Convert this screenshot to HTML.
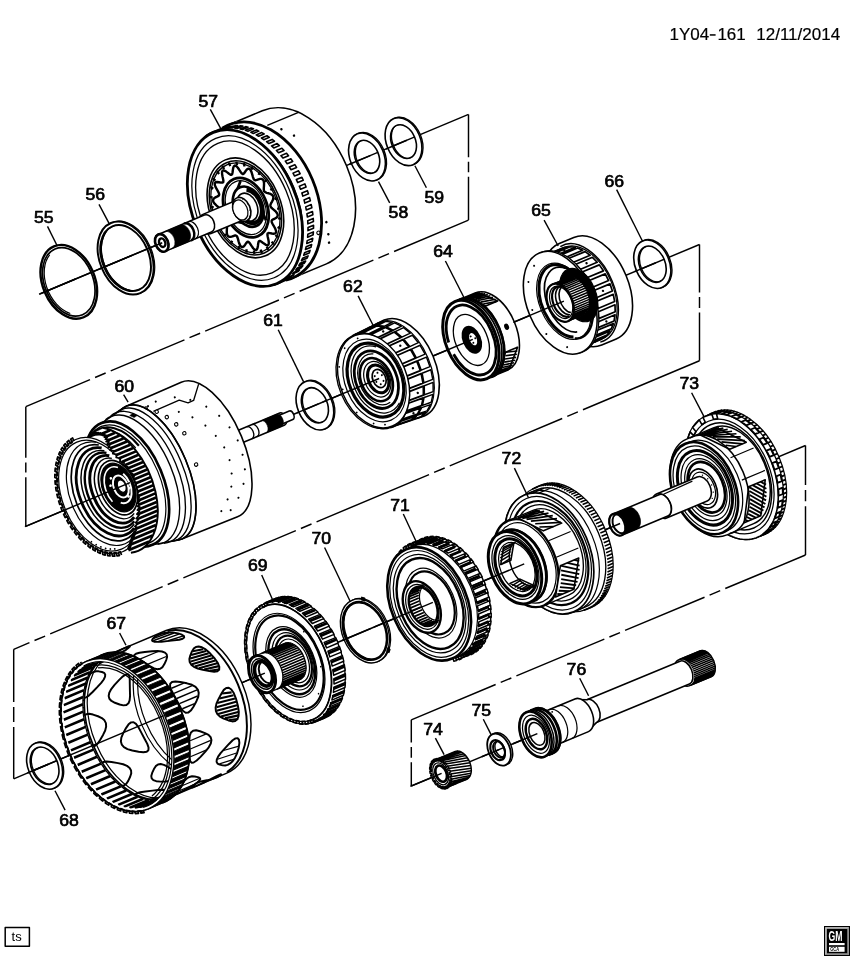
<!DOCTYPE html>
<html><head><meta charset="utf-8"><title>1Y04-161</title>
<style>
html,body{margin:0;padding:0;background:#fff;}
body{width:851px;height:960px;overflow:hidden;font-family:"Liberation Sans",sans-serif;}
svg{display:block;will-change:transform;}
text{font-family:"Liberation Sans",sans-serif;fill:#000;}
.tx{opacity:0.995;}
.lb{font-size:15.6px;stroke:#000;stroke-width:0.65px;}
.dt{font-size:17px;stroke:#000;stroke-width:0.2px;}
.ts{font-size:13px;}
.gm{font-size:14px;font-weight:bold;fill:#fff;}
.gc{font-size:5px;font-weight:bold;fill:#000;}
</style></head><body>
<svg width="851" height="960" viewBox="0 0 851 960" stroke-linecap="butt" stroke-linejoin="round">
<rect width="851" height="960" fill="#fff"/>
<path d="M468.5 114.4L468.5 157.3M468.5 161.7L468.5 172.3M468.5 176.7L468.5 220.1" fill="none" stroke="#000" stroke-width="1.46"/>
<path d="M468.5 220.1L394.09 251.46M389.02 253.6L378.42 258.07M373.36 260.2L299.64 291.28M294.57 293.41L283.97 297.88M278.9 300.02L205.19 331.09M200.12 333.22L189.52 337.69M184.45 339.83L110.73 370.9M105.66 373.04L95.07 377.5M90 379.64L25.8 406.7" fill="none" stroke="#000" stroke-width="1.46"/>
<path d="M25.8 406.7L25.8 457.7M25.8 462.5L25.8 472.5M25.8 477.3L25.8 526.3" fill="none" stroke="#000" stroke-width="1.46"/>
<path d="M699.5 244.5L699.5 292.5M699.5 297L699.5 308M699.5 312.5L699.5 360.75" fill="none" stroke="#000" stroke-width="1.46"/>
<path d="M699.5 360.75L582.95 409.79M577.88 411.92L567.28 416.38M562.21 418.52L449.76 465.83M444.69 467.96L434.09 472.42M429.02 474.56L316.57 521.87M311.5 524L300.9 528.46M295.83 530.6L183.37 577.91M178.3 580.04L167.7 584.5M162.64 586.64L50.18 633.95M45.11 636.08L34.51 640.54M29.44 642.68L13.7 649.3" fill="none" stroke="#000" stroke-width="1.46"/>
<path d="M13.7 649.3L13.7 702M13.7 707L13.7 722M13.7 727L13.7 778.8" fill="none" stroke="#000" stroke-width="1.46"/>
<path d="M805.5 445.5L805.5 485M805.5 490L805.5 501.2M805.5 506.2L805.5 555" fill="none" stroke="#000" stroke-width="1.46"/>
<path d="M805.5 555L725.28 588.54M720.2 590.66L709.59 595.09M704.52 597.22L625.08 630.43M620.01 632.55L609.4 636.98M604.32 639.1L516.4 675.86M511.32 677.98L500.71 682.42M495.64 684.54L411.3 719.8" fill="none" stroke="#000" stroke-width="1.46"/>
<path d="M411.3 719.8L411.3 742.5M411.3 747L411.3 757.8M411.3 762.3L411.3 786" fill="none" stroke="#000" stroke-width="1.46"/>
<g transform="translate(40 293.9) rotate(-22.73)">
<path d="M0 0L464.58 0" fill="none" stroke="#000" stroke-width="1.46"/>
<path d="M4.7 0A26.52 39 0 1 0 57.74 0A26.52 39 0 1 0 4.7 0ZM7.02 0A24.21 35.6 0 1 1 55.43 0A24.21 35.6 0 1 1 7.02 0Z" fill="#fff" stroke="#000" stroke-width="0.1" fill-rule="evenodd"/>
<ellipse cx="31.22" cy="0" rx="26.11" ry="38.4" fill="none" stroke="#000" stroke-width="2.4"/>
<ellipse cx="31.22" cy="0" rx="24.21" ry="35.6" fill="none" stroke="#000" stroke-width="1.71"/>
<path d="M20.33 29.79A23.39 34.4 0 0 1 24.02 -32.33" fill="none" stroke="#000" stroke-width="1.22"/>
<path d="M2.7 0L38.49 0" fill="none" stroke="#000" stroke-width="1.46"/>
<path d="M68.17 0A25.84 38 0 1 0 119.85 0A25.84 38 0 1 0 68.17 0ZM70.62 0A23.39 34.4 0 1 1 117.4 0A23.39 34.4 0 1 1 70.62 0Z" fill="#fff" stroke="#000" stroke-width="1.22" fill-rule="evenodd"/>
<path d="M66.97 0A25.84 38 0 1 0 118.65 0A25.84 38 0 1 0 66.97 0ZM69.42 0A23.39 34.4 0 1 1 116.2 0A23.39 34.4 0 1 1 69.42 0Z" fill="#fff" stroke="#000" stroke-width="0.1" fill-rule="evenodd"/>
<ellipse cx="92.81" cy="0" rx="25.84" ry="38" fill="none" stroke="#000" stroke-width="1.95"/>
<ellipse cx="92.81" cy="0" rx="23.39" ry="34.4" fill="none" stroke="#000" stroke-width="1.95"/>
<path d="M86.01 32.33A23.39 34.4 0 0 1 86.01 -32.33" fill="none" stroke="#000" stroke-width="1.22"/>
<path d="M64.97 0L99.82 0" fill="none" stroke="#000" stroke-width="1.46"/>
<path d="M239 -83L275.8 -83A56.44 83 0 0 1 275.8 83L239 83A56.44 83 0 0 1 239 -83Z" fill="#fff" stroke="#000" stroke-width="1.59"/>
<ellipse cx="239" cy="0" rx="56.44" ry="83" fill="#fff" stroke="#fff" stroke-width="2.5"/>
<path d="M239 -83L247 -83" fill="none" stroke="#000" stroke-width="1.59"/>
<path d="M239 83L247 83" fill="none" stroke="#000" stroke-width="1.59"/>
<path d="M274.77 -67.57L308.57 -67.57" fill="none" stroke="#000" stroke-width="1.46"/>
<circle cx="286.28" cy="-58.59" r="1.25" fill="#000"/><circle cx="295.42" cy="-47.84" r="1.25" fill="#000"/><circle cx="291.85" cy="44.47" r="1.25" fill="#000"/><circle cx="289.01" cy="56.39" r="1.25" fill="#000"/><circle cx="286.4" cy="64.41" r="1.25" fill="#000"/>
<circle cx="280.46" cy="51.25" r="1.7" fill="#fff" stroke="#000" stroke-width="1.1"/>
<path d="M232.12 -82.38A56.44 83 0 1 1 232.12 82.38" fill="none" stroke="#000" stroke-width="2.8"/>
<path d="M239.08 -79.74L245.08 -79.74L247.24 -78.83L241.24 -78.83ZM243.8 -77.57L249.8 -77.57L251.9 -76.38L245.9 -76.38ZM248.36 -74.8L254.36 -74.8L256.39 -73.34L250.39 -73.34ZM252.75 -71.45L258.75 -71.45L260.68 -69.73L254.68 -69.73ZM256.92 -67.54L262.92 -67.54L264.73 -65.58L258.73 -65.58ZM260.84 -63.11L266.84 -63.11L268.53 -60.92L262.53 -60.92ZM264.47 -58.18L270.47 -58.18L272.03 -55.79L266.03 -55.79ZM267.8 -52.81L273.8 -52.81L275.21 -50.22L269.21 -50.22ZM270.79 -47.02L276.79 -47.02L278.04 -44.27L272.04 -44.27ZM273.43 -40.88L279.43 -40.88L280.51 -37.97L274.51 -37.97ZM275.69 -34.41L281.69 -34.41L282.59 -31.37L276.59 -31.37ZM277.55 -27.67L283.55 -27.67L284.26 -24.53L278.26 -24.53ZM279 -20.73L285 -20.73L285.52 -17.5L279.52 -17.5ZM280.03 -13.62L286.03 -13.62L286.36 -10.34L280.36 -10.34ZM280.63 -6.4L286.63 -6.4L286.76 -3.1L280.76 -3.1ZM280.8 0.86L286.8 0.86L286.73 4.17L280.73 4.17ZM280.53 8.12L286.53 8.12L286.26 11.41L280.26 11.41ZM279.82 15.32L285.82 15.32L285.36 18.56L279.36 18.56ZM278.69 22.39L284.69 22.39L284.04 25.56L278.04 25.56ZM277.14 29.3L283.14 29.3L282.3 32.37L276.3 32.37ZM275.19 35.97L281.19 35.97L280.16 38.92L274.16 38.92ZM272.84 42.37L278.84 42.37L277.64 45.17L271.64 45.17ZM270.11 48.43L276.11 48.43L274.76 51.08L268.76 51.08ZM267.04 54.12L273.04 54.12L271.53 56.58L265.53 56.58ZM263.64 59.4L269.64 59.4L267.98 61.65L261.98 61.65ZM259.93 64.21L265.93 64.21L264.15 66.23L258.15 66.23ZM255.95 68.52L261.95 68.52L260.05 70.31L254.05 70.31ZM251.73 72.3L257.73 72.3L255.73 73.83L249.73 73.83ZM247.29 75.51L253.29 75.51L251.22 76.79L245.22 76.79ZM242.69 78.14L248.69 78.14L246.54 79.14L240.54 79.14Z" fill="none" stroke="#000" stroke-width="1.59"/>
<path d="M214.27 -81.87L222.27 -81.87L224.41 -82.2L216.41 -82.2ZM217.38 -82.31L225.38 -82.31L227.54 -82.46L219.54 -82.46ZM220.51 -82.49L228.51 -82.49L230.67 -82.47L222.67 -82.47ZM223.65 -82.42L231.65 -82.42L233.8 -82.22L225.8 -82.22ZM226.77 -82.09L234.77 -82.09L236.91 -81.72L228.91 -81.72ZM229.88 -81.51L237.88 -81.51L240 -80.96L232 -80.96ZM232.96 -80.67L240.96 -80.67L243.06 -79.94L235.06 -79.94Z" fill="#000" stroke="#000" stroke-width="1.46"/>
<path d="M233.82 80.39L241.82 80.39L239.9 80.98L231.9 80.98ZM230.75 81.3L238.75 81.3L236.81 81.74L228.81 81.74ZM227.65 81.95L235.65 81.95L233.7 82.23L225.7 82.23ZM224.53 82.35L232.53 82.35L230.57 82.48L222.57 82.48ZM221.4 82.5L229.4 82.5L227.44 82.46L219.44 82.46Z" fill="#000" stroke="#000" stroke-width="1.46"/>
<path d="M228.94 -81.25A56.1 82.5 0 0 1 228.94 81.25" fill="none" stroke="#000" stroke-width="1.1"/>
<ellipse cx="222.2" cy="0" rx="52.07" ry="82" fill="#fff" stroke="#000" stroke-width="2.8"/>
<ellipse cx="222.2" cy="0" rx="48.01" ry="75.6" fill="none" stroke="#000" stroke-width="1.22"/>
<ellipse cx="222.2" cy="0" rx="44.58" ry="70.2" fill="none" stroke="#000" stroke-width="1.34"/>
<ellipse cx="222.7" cy="0" rx="35.36" ry="52" fill="#fff" stroke="#000" stroke-width="1.59"/>
<ellipse cx="222.7" cy="0" rx="33.32" ry="49" fill="none" stroke="#000" stroke-width="1.59"/>
<path d="M252.76 0L252.35 1.63L251.25 3.15L249.73 4.48L248.18 5.65L247 6.76L246.43 7.97L246.58 9.41L247.33 11.17L248.37 13.21L249.35 15.38L249.9 17.45L249.78 19.18L248.93 20.39L247.49 21.05L245.73 21.28L243.99 21.35L242.59 21.59L241.73 22.32L241.44 23.72L241.59 25.78L241.93 28.28L242.17 30.86L242.06 33.08L241.44 34.56L240.32 35.11L238.83 34.78L237.17 33.87L235.59 32.82L234.25 32.15L233.26 32.25L232.59 33.33L232.12 35.28L231.68 37.76L231.14 40.23L230.38 42.15L229.39 43.09L228.22 42.88L226.97 41.63L225.75 39.75L224.63 37.79L223.62 36.34L222.7 35.8L221.78 36.34L220.77 37.79L219.65 39.75L218.43 41.63L217.18 42.88L216.01 43.09L215.02 42.15L214.26 40.23L213.72 37.76L213.28 35.28L212.81 33.33L212.14 32.25L211.15 32.15L209.81 32.82L208.23 33.87L206.57 34.78L205.08 35.11L203.96 34.56L203.34 33.08L203.23 30.86L203.47 28.28L203.81 25.78L203.96 23.72L203.67 22.32L202.81 21.59L201.41 21.35L199.67 21.28L197.91 21.05L196.47 20.39L195.62 19.18L195.5 17.45L196.05 15.38L197.03 13.21L198.07 11.17L198.82 9.41L198.97 7.97L198.4 6.76L197.22 5.65L195.67 4.48L194.15 3.15L193.05 1.63L192.64 0L193.05 -1.63L194.15 -3.15L195.67 -4.48L197.22 -5.65L198.4 -6.76L198.97 -7.97L198.82 -9.41L198.07 -11.17L197.03 -13.21L196.05 -15.38L195.5 -17.45L195.62 -19.18L196.47 -20.39L197.91 -21.05L199.67 -21.28L201.41 -21.35L202.81 -21.59L203.67 -22.32L203.96 -23.72L203.81 -25.78L203.47 -28.28L203.23 -30.86L203.34 -33.08L203.96 -34.56L205.08 -35.11L206.57 -34.78L208.23 -33.87L209.81 -32.82L211.15 -32.15L212.14 -32.25L212.81 -33.33L213.28 -35.28L213.72 -37.76L214.26 -40.23L215.02 -42.15L216.01 -43.09L217.18 -42.88L218.43 -41.63L219.65 -39.75L220.77 -37.79L221.78 -36.34L222.7 -35.8L223.62 -36.34L224.63 -37.79L225.75 -39.75L226.97 -41.63L228.22 -42.88L229.39 -43.09L230.38 -42.15L231.14 -40.23L231.68 -37.76L232.12 -35.28L232.59 -33.33L233.26 -32.25L234.25 -32.15L235.59 -32.82L237.17 -33.87L238.83 -34.78L240.32 -35.11L241.44 -34.56L242.06 -33.08L242.17 -30.86L241.93 -28.28L241.59 -25.78L241.44 -23.72L241.73 -22.32L242.59 -21.59L243.99 -21.35L245.73 -21.28L247.49 -21.05L248.93 -20.39L249.78 -19.18L249.9 -17.45L249.35 -15.38L248.37 -13.21L247.33 -11.17L246.58 -9.41L246.43 -7.97L247 -6.76L248.18 -5.65L249.73 -4.48L251.25 -3.15L252.35 -1.63L252.76 0Z" fill="none" stroke="#000" stroke-width="2.4"/>
<path d="M252.89 3.1L255.4 3.36M251.66 12.9L254.07 13.98M248.98 22.06L251.17 23.89M244.98 30.1L246.84 32.61M239.87 36.64L241.3 39.69M233.9 41.34L234.83 44.78M227.36 43.97L227.75 47.63M220.59 44.39L220.41 48.08M213.93 42.59L213.2 46.13M207.7 38.65L206.45 41.86M202.23 32.77L200.53 35.5M197.78 25.25L195.71 27.35M194.59 16.46L192.25 17.83M192.8 6.85L190.31 7.42M192.51 -3.1L190 -3.36M193.74 -12.9L191.33 -13.98M196.42 -22.06L194.23 -23.89M200.42 -30.1L198.56 -32.61M205.53 -36.64L204.1 -39.69M211.5 -41.34L210.57 -44.78M218.04 -43.97L217.65 -47.63M224.81 -44.39L224.99 -48.08M231.47 -42.59L232.2 -46.13M237.7 -38.65L238.95 -41.86M243.17 -32.77L244.87 -35.5M247.62 -25.25L249.69 -27.35M250.81 -16.46L253.15 -17.83M252.6 -6.85L255.09 -7.42" fill="none" stroke="#000" stroke-width="2.32"/>
<ellipse cx="222.7" cy="0" rx="31.82" ry="46.8" fill="none" stroke="#000" stroke-width="1.22"/>
<ellipse cx="223.2" cy="0" rx="21.08" ry="31" fill="none" stroke="#000" stroke-width="2.8"/>
<ellipse cx="223.2" cy="0" rx="19.04" ry="28" fill="none" stroke="#000" stroke-width="1.22"/>
<path d="M237.42 3.3Q236.51 13.19 236.92 19.45M216.4 14.55Q209.53 9.72 205.64 7.12M220.28 -17.85Q225.06 -22.91 228.54 -26.56" fill="none" stroke="#000" stroke-width="2.68"/>
<ellipse cx="225.7" cy="0" rx="14.28" ry="21" fill="#fff" stroke="#000" stroke-width="2.6"/>
<path d="M230.77 -16.44A11.9 17.5 0 1 1 214.98 3.04" fill="none" stroke="#000" stroke-width="4.2"/>
<ellipse cx="224.7" cy="0" rx="9.86" ry="14.5" fill="#fff" stroke="#000" stroke-width="1.59"/>
<path d="M181 -10.4L218.7 -10.4A7.07 10.4 0 0 1 218.7 10.4L181 10.4A7.07 10.4 0 0 1 181 -10.4Z" fill="#fff" stroke="#000" stroke-width="1.59"/>
<ellipse cx="218.7" cy="0" rx="8.5" ry="12.5" fill="#fff" stroke="#000" stroke-width="1.59"/>
<ellipse cx="217.2" cy="0" rx="7.07" ry="10.4" fill="#fff" stroke="#000" stroke-width="1.22"/>
<circle cx="223.64" cy="-8.66" r="0.6" fill="#000"/><circle cx="226.12" cy="-2.92" r="0.6" fill="#000"/><circle cx="225.92" cy="3.86" r="0.6" fill="#000"/><circle cx="223.11" cy="9.26" r="0.6" fill="#000"/>
<path d="M132 -9.2L182 -9.2A6.26 9.2 0 0 1 182 9.2L132 9.2A6.26 9.2 0 0 1 132 -9.2Z" fill="#fff" stroke="#000" stroke-width="1.59"/><ellipse cx="132" cy="0" rx="6.26" ry="9.2" fill="none" stroke="#000" stroke-width="1.59"/>
<path d="M139 -9.2L156 -9.2A6.26 9.2 0 0 1 156 9.2L139 9.2A6.26 9.2 0 0 0 139 -9.2Z" fill="#000" stroke="#000" stroke-width="0.5"/>
<path d="M160 -9.2A6.26 9.2 0 0 1 160 9.2" fill="none" stroke="#000" stroke-width="2.44"/>
<path d="M164.5 -9.2A6.26 9.2 0 0 1 164.5 9.2" fill="none" stroke="#000" stroke-width="1.22"/>
<ellipse cx="132" cy="0" rx="6.26" ry="9.2" fill="#fff" stroke="#000" stroke-width="2.68"/>
<ellipse cx="132.5" cy="0" rx="2.99" ry="4.4" fill="#fff" stroke="#000" stroke-width="2.4"/>
<path d="M-1 0L132.5 0" fill="none" stroke="#000" stroke-width="1.46"/>
<path d="M338.73 0A17 25 0 1 0 372.73 0A17 25 0 1 0 338.73 0ZM343.97 0A11.76 17.3 0 1 1 367.5 0A11.76 17.3 0 1 1 343.97 0Z" fill="#fff" stroke="#000" stroke-width="1.34" fill-rule="evenodd"/>
<path d="M337.53 0A17 25 0 1 0 371.53 0A17 25 0 1 0 337.53 0ZM342.77 0A11.76 17.3 0 1 1 366.3 0A11.76 17.3 0 1 1 342.77 0Z" fill="#fff" stroke="#000" stroke-width="0.1" fill-rule="evenodd"/>
<ellipse cx="354.53" cy="0" rx="17" ry="25" fill="none" stroke="#000" stroke-width="1.59"/>
<ellipse cx="354.53" cy="0" rx="11.76" ry="17.3" fill="none" stroke="#000" stroke-width="1.59"/>
<path d="M335.53 0L358.06 0" fill="none" stroke="#000" stroke-width="1.46"/>
<path d="M378.31 0A17 25 0 1 0 412.31 0A17 25 0 1 0 378.31 0ZM383.34 0A11.97 17.6 0 1 1 407.27 0A11.97 17.6 0 1 1 383.34 0Z" fill="#fff" stroke="#000" stroke-width="1.34" fill-rule="evenodd"/>
<path d="M377.11 0A17 25 0 1 0 411.11 0A17 25 0 1 0 377.11 0ZM382.14 0A11.97 17.6 0 1 1 406.07 0A11.97 17.6 0 1 1 382.14 0Z" fill="#fff" stroke="#000" stroke-width="0.1" fill-rule="evenodd"/>
<ellipse cx="394.11" cy="0" rx="17" ry="25" fill="none" stroke="#000" stroke-width="1.59"/>
<ellipse cx="394.11" cy="0" rx="11.97" ry="17.6" fill="none" stroke="#000" stroke-width="1.59"/>
<path d="M375.11 0L397.7 0" fill="none" stroke="#000" stroke-width="1.46"/>
</g>
<g transform="translate(25.8 526.3) rotate(-22.7)">
<path d="M0 0L730.26 0" fill="none" stroke="#000" stroke-width="1.46"/>
<path d="M226 -6.5L278 -6.5A3.9 6.5 0 0 1 278 6.5L226 6.5A3.9 6.5 0 0 1 226 -6.5Z" fill="#fff" stroke="#000" stroke-width="1.59"/>
<path d="M276 -4.6L287.5 -4.6A2.76 4.6 0 0 1 287.5 4.6L276 4.6A2.76 4.6 0 0 1 276 -4.6Z" fill="#fff" stroke="#000" stroke-width="1.59"/>
<path d="M257.8 -6.5L274.6 -6.5A3.9 6.5 0 0 1 274.6 6.5L257.8 6.5A3.9 6.5 0 0 0 257.8 -6.5Z" fill="#000" stroke="#000" stroke-width="0.5"/>
<path d="M242.4 -6.5A3.9 6.5 0 0 1 242.4 6.5" fill="none" stroke="#000" stroke-width="1.34"/>
<path d="M248 -6.5A3.9 6.5 0 0 1 248 6.5" fill="none" stroke="#000" stroke-width="1.34"/>
<path d="M139 -72L199 -73A34.67 73 0 0 1 199 73L139 72A34.2 72 0 0 1 139 -72Z" fill="#fff" stroke="#000" stroke-width="1.59"/>
<path d="M162.06 -56.74L190.2 -57.13L197.35 -51.27L203.38 -51.34L214.28 -64.46" fill="none" stroke="#000" stroke-width="1.34"/>
<circle cx="185.32" cy="-46.5" r="1.05" fill="#000"/><circle cx="195.81" cy="-36.23" r="1.05" fill="#000"/><circle cx="204.59" cy="-23.62" r="1.05" fill="#000"/><circle cx="210.16" cy="-10.11" r="1.05" fill="#000"/><circle cx="213.48" cy="3.8" r="1.05" fill="#000"/><circle cx="213.51" cy="17.59" r="1.05" fill="#000"/><circle cx="210.29" cy="30.72" r="1.05" fill="#000"/><circle cx="204.92" cy="42.7" r="1.05" fill="#000"/><circle cx="196.51" cy="53.08" r="1.05" fill="#000"/><circle cx="186.25" cy="61.48" r="1.05" fill="#000"/><circle cx="159.07" cy="-63.63" r="1.05" fill="#000"/><circle cx="168.04" cy="-64.93" r="1.05" fill="#000"/><circle cx="187.25" cy="-61.49" r="1.05" fill="#000"/><circle cx="200.53" cy="-53.13" r="1.05" fill="#000"/><circle cx="212.65" cy="-40.69" r="1.05" fill="#000"/><circle cx="221.08" cy="-27.29" r="1.05" fill="#000"/><circle cx="226.1" cy="-12.66" r="1.05" fill="#000"/><circle cx="228.62" cy="2.55" r="1.05" fill="#000"/><circle cx="227.62" cy="17.64" r="1.05" fill="#000"/><circle cx="224.13" cy="31.97" r="1.05" fill="#000"/><circle cx="217.27" cy="44.86" r="1.05" fill="#000"/><circle cx="207.22" cy="55.75" r="1.05" fill="#000"/><circle cx="195.21" cy="64.17" r="1.05" fill="#000"/>
<circle cx="156.1" cy="-62.35" r="1.7" fill="#fff" stroke="#000" stroke-width="1.1"/>
<circle cx="164.98" cy="-55.16" r="1.7" fill="#fff" stroke="#000" stroke-width="1.1"/>
<circle cx="172.2" cy="-46.28" r="1.7" fill="#fff" stroke="#000" stroke-width="1.1"/>
<circle cx="178.12" cy="-36" r="1.7" fill="#fff" stroke="#000" stroke-width="1.1"/>
<circle cx="182.14" cy="-24.63" r="1.7" fill="#fff" stroke="#000" stroke-width="1.1"/>
<circle cx="180.95" cy="8.77" r="1.7" fill="#fff" stroke="#000" stroke-width="1.1"/>
<path d="M109.7 -66L138.9 -72A34.24 72 0 0 1 138.9 72L109.7 66A36.4 66 0 0 1 109.7 -66Z" fill="#fff" stroke="#000" stroke-width="1.46"/>
<path d="M114.58 -67.46A35.8 68.5 0 1 1 114.58 67.46" fill="none" stroke="#000" stroke-width="1.34"/>
<path d="M120.84 -68.94A35.45 70 0 1 1 120.84 68.94" fill="none" stroke="#000" stroke-width="1.34"/>
<path d="M127.36 -69.92A34.78 71 0 1 1 127.36 69.92" fill="none" stroke="#000" stroke-width="1.34"/>
<path d="M132.95 -70.91A34.24 72 0 1 1 132.95 70.91" fill="none" stroke="#000" stroke-width="1.59"/>
<path d="M138.63 -62.02L142.08 -62.74L145.33 -59.19L141.9 -58.52Z" fill="#000" stroke="#000" stroke-width="0.5"/>
<ellipse cx="109.7" cy="0" rx="36.4" ry="66" fill="#fff" stroke="#000" stroke-width="2.68"/>
<ellipse cx="108.2" cy="0" rx="34.74" ry="63" fill="none" stroke="#000" stroke-width="1.22"/>
<path d="M71.04 -5.36A34.59 61.5 0 0 1 135.45 -30.75" fill="none" stroke="#000" stroke-width="2.2"/>
<path d="M67.84 -5.23A34.29 60 0 0 1 131.7 -30" fill="none" stroke="#000" stroke-width="1.22"/>
<path d="M63.8 -5.14A34.33 59 0 0 1 127.73 -29.5" fill="none" stroke="#000" stroke-width="1.22"/>
<path d="M60.93 -5.06A34.2 58 0 0 1 124.62 -29" fill="none" stroke="#000" stroke-width="1.95"/>
<ellipse cx="79.5" cy="0" rx="38.3" ry="60.8" fill="#fff" stroke="#000" stroke-width="1.22"/>
<path d="M77.26 63.4L77.38 59.91L75.27 59.62L75.02 63.1L72.8 62.6L73.17 59.15L71.09 58.5L70.6 61.91L68.43 61.02L69.04 57.66L67.02 56.63L66.29 59.94L64.19 58.67L65.03 55.43L63.1 54.06L62.14 57.21L60.15 55.58L61.22 52.51L59.39 50.8L58.22 53.77L56.35 51.79L57.63 48.93L55.93 46.91L54.56 49.65L52.84 47.35L54.31 44.74L52.77 42.43L51.21 44.9L49.67 42.31L51.31 39.98L49.95 37.41L48.22 39.59L46.87 36.75L48.67 34.72L47.49 31.92L45.63 33.78L44.49 30.72L46.42 29.02L45.44 26.03L43.46 27.55L42.54 24.3L44.58 22.96L43.82 19.82L41.74 20.97L41.06 17.58L43.18 16.61L42.65 13.35L40.5 14.13L40.06 10.64L42.23 10.05L41.94 6.72L39.75 7.11L39.56 3.56L41.76 3.36L41.7 0L39.49 0L39.56 -3.56L41.76 -3.36L41.94 -6.72L39.75 -7.11L40.06 -10.64L42.23 -10.05L42.65 -13.35L40.5 -14.13L41.06 -17.58L43.18 -16.61L43.82 -19.82L41.74 -20.97L42.54 -24.3L44.58 -22.96L45.44 -26.03L43.46 -27.55L44.49 -30.72L46.42 -29.02L47.49 -31.92L45.63 -33.78L46.87 -36.75L48.67 -34.72L49.95 -37.41L48.22 -39.59L49.67 -42.31L51.31 -39.98L52.77 -42.43L51.21 -44.9L52.84 -47.35L54.31 -44.74L55.93 -46.91L54.56 -49.65L56.35 -51.79L57.63 -48.93L59.39 -50.8L58.22 -53.77L60.15 -55.58L61.22 -52.51L63.1 -54.06L62.14 -57.21L64.19 -58.67L65.03 -55.43L67.02 -56.63L66.29 -59.94L68.43 -61.02L69.04 -57.66L71.09 -58.5L70.6 -61.91L72.8 -62.6L73.17 -59.15L75.27 -59.62L75.02 -63.1L77.26 -63.4L77.38 -59.91" fill="none" stroke="#000" stroke-width="1.71"/>
<ellipse cx="79.5" cy="0" rx="36.54" ry="58" fill="none" stroke="#000" stroke-width="1.22"/>
<path d="M98 -60L98.49 -59.73L99.15 -59.44L99.93 -59.12L100.81 -58.76L101.76 -58.36L102.74 -57.91L103.73 -57.4L104.69 -56.83L105.59 -56.19L106.39 -55.48L107.07 -54.68L107.6 -53.8L107.95 -52.85L108.16 -51.84L108.25 -50.77L108.25 -49.64L108.19 -48.44L108.1 -47.16L108.01 -45.81L107.94 -44.37L107.92 -42.85L107.99 -41.23L108.18 -39.52L108.5 -37.7L108.99 -35.71L109.63 -33.5L110.38 -31.11L111.22 -28.6L112.12 -26L113.04 -23.35L113.95 -20.7L114.82 -18.09L115.62 -15.56L116.33 -13.16L116.9 -10.92L117.3 -8.9L117.55 -7.07L117.7 -5.39L117.75 -3.83L117.71 -2.38L117.61 -1L117.44 0.31L117.24 1.58L117 2.82L116.74 4.07L116.48 5.33L116.23 6.64L116 8L115.79 9.39L115.6 10.75L115.4 12.1L115.2 13.45L114.97 14.79L114.73 16.14L114.44 17.5L114.1 18.87L113.71 20.28L113.25 21.71L112.72 23.18L112.1 24.7L111.36 26.31L110.49 28.02L109.52 29.82L108.47 31.67L107.36 33.55L106.22 35.43L105.07 37.27L103.93 39.05L102.83 40.74L101.79 42.32L100.84 43.75L100 45L99.26 46.07L98.59 46.99L97.97 47.77L97.4 48.43L96.88 49.01L96.38 49.53L95.89 49.99L95.42 50.44L94.94 50.9L94.45 51.38L93.94 51.9L93.4 52.5L92.81 53.17L92.19 53.88L91.53 54.63L90.87 55.4L90.2 56.16L89.54 56.92L88.9 57.65L88.3 58.34L87.75 58.97L87.25 59.54L86.83 60.02L86.5 60.4L87.43 65.19L89.54 65.64L91.67 65.91L93.8 66L95.93 65.91L98.06 65.64L100.17 65.19L102.27 64.56L104.34 63.75L106.38 62.77L108.39 61.62L110.36 60.29L112.29 58.81L114.16 57.16L115.98 55.35L117.74 53.4L119.43 51.29L121.05 49.05L122.59 46.67L124.06 44.16L125.45 41.54L126.74 38.79L127.95 35.95L129.07 33L130.08 29.96L131 26.84L131.82 23.65L132.53 20.4L133.13 17.08L133.63 13.72L134.02 10.32L134.3 6.9L134.47 3.45L134.52 0L134.47 -3.45L134.3 -6.9L134.02 -10.32L133.63 -13.72L133.13 -17.08L132.53 -20.4L131.82 -23.65L131 -26.84L130.08 -29.96L129.07 -33L127.95 -35.95L126.74 -38.79L125.45 -41.54L124.06 -44.16L122.59 -46.67L121.05 -49.05L119.43 -51.29L117.74 -53.4L115.98 -55.35L114.16 -57.16L112.29 -58.81L110.36 -60.29Z" fill="#fff" stroke="#fff" stroke-width="0.1"/>
<path d="M105.8 -56L114.85 -56M108.17 -51.8L118.53 -51.8M108.13 -47.6L121.51 -47.6M107.93 -43.4L123.98 -43.4M108.23 -39.2L126.06 -39.2M109.19 -35L127.82 -35M110.49 -30.8L129.32 -30.8M111.91 -26.6L130.57 -26.6M113.36 -22.4L131.6 -22.4M114.79 -18.2L132.44 -18.2M116.08 -14L133.1 -14M117.12 -9.8L133.57 -9.8M117.68 -5.6L133.88 -5.6M117.64 -1.4L134.01 -1.4M117 2.8L133.99 2.8M116.17 7L133.79 7M115.53 11.2L133.43 11.2M114.86 15.4L132.9 15.4M113.9 19.6L132.18 19.6M112.47 23.8L131.28 23.8M110.51 28L130.18 28M108.16 32.2L128.85 32.2M105.61 36.4L127.27 36.4M102.92 40.6L125.41 40.6M100.13 44.8L123.2 44.8M96.89 49L120.58 49M92.79 53.2L117.4 53.2M89.12 57.4L113.4 57.4M85.45 61.6L107.92 61.6" fill="none" stroke="#000" stroke-width="2.7"/>
<path d="M109.05 -61.19A40.72 66 0 0 1 86.73 65" fill="none" stroke="#000" stroke-width="1.95"/>
<path d="M96.7 -60L99.79 -59.73L97.85 -59.44L101.23 -59.12L99.51 -58.76L103.06 -58.36L101.44 -57.91L105.03 -57.4L103.39 -56.83L106.89 -56.19L105.09 -55.48L108.37 -54.68L106.3 -53.8L109.25 -52.85L106.86 -51.84L109.55 -50.77L106.95 -49.64L109.49 -48.44L106.8 -47.16L109.31 -45.81L106.64 -44.37L109.22 -42.85L106.69 -41.23L109.48 -39.52L107.2 -37.7L110.29 -35.71L108.33 -33.5L111.68 -31.11L109.92 -28.6L113.42 -26L111.74 -23.35L115.25 -20.7L113.52 -18.09L116.92 -15.56L115.03 -13.16L118.2 -10.92L116 -8.9L118.85 -7.07L116.4 -5.39L119.05 -3.83L116.41 -2.38L118.91 -1L116.14 0.31L118.54 1.58L115.7 2.82L118.04 4.07L115.18 5.33L117.53 6.64L114.7 8L117.09 9.39L114.3 10.75L116.7 12.1L113.9 13.45L116.27 14.79L113.43 16.14L115.74 17.5L112.8 18.87L115.01 20.28L111.95 21.71L114.02 23.18L110.8 24.7L112.66 26.31L109.19 28.02L110.82 29.82L107.17 31.67L108.66 33.55L104.92 35.43L106.37 37.27L102.63 39.05L104.13 40.74L100.49 42.32L102.14 43.75L98.7 45L100.56 46.07L97.29 46.99L99.27 47.77L96.1 48.43L98.18 49.01L95.08 49.53L97.19 49.99L94.12 50.44L96.24 50.9L93.15 51.38L95.24 51.9L92.1 52.5L94.11 53.17L90.89 53.88L92.83 54.63L89.57 55.4L91.5 56.16L88.24 56.92L90.2 57.65L87 58.34L89.05 58.97L85.95 59.54L88.13 60.02L85.2 60.4" fill="none" stroke="#000" stroke-width="1.71"/>
<path d="M96.2 51.12A33.73 54.4 0 1 1 97.29 -50.44" fill="none" stroke="#000" stroke-width="1.22"/>
<path d="M97.71 47.45A31.31 50.5 0 1 1 98.73 -46.82" fill="none" stroke="#000" stroke-width="1.71"/>
<path d="M99.3 43.6A28.77 46.4 0 1 1 100.24 -43.02" fill="none" stroke="#000" stroke-width="2.8"/>
<path d="M100.81 39.94A26.35 42.5 0 1 1 101.67 -39.41" fill="none" stroke="#000" stroke-width="1.46"/>
<path d="M101.98 37.12A24.49 39.5 0 1 1 102.77 -36.62" fill="none" stroke="#000" stroke-width="2.4"/>
<path d="M103.53 33.36A22.01 35.5 0 1 1 104.25 -32.92" fill="none" stroke="#000" stroke-width="3"/>
<path d="M104.96 29.88A19.72 31.8 0 1 1 105.61 -29.48" fill="none" stroke="#000" stroke-width="1.46"/>
<ellipse cx="100" cy="0" rx="17.67" ry="28.5" fill="#fff" stroke="#000" stroke-width="1.71"/>
<ellipse cx="100.5" cy="0" rx="15.81" ry="25.5" fill="#000" stroke="#000" stroke-width="1.22"/>
<path d="M89.46 10.75A13.33 21.5 0 0 1 107.67 -18.62" fill="none" stroke="#fff" stroke-width="1.59"/>
<path d="M110.07 -10.93A10.54 17 0 0 1 96.73 14.72" fill="none" stroke="#fff" stroke-width="1.95"/>
<ellipse cx="103" cy="0" rx="7.13" ry="11.5" fill="none" stroke="#fff" stroke-width="1.95"/>
<ellipse cx="104" cy="0" rx="4.03" ry="6.5" fill="#fff" stroke="#000" stroke-width="1.22"/>
<circle cx="93.84" cy="-4.79" r="1.3" fill="#fff"/><circle cx="97.02" cy="-11.47" r="1.3" fill="#fff"/><circle cx="110.16" cy="4.79" r="1.3" fill="#fff"/><circle cx="106.34" cy="12.12" r="1.3" fill="#fff"/>
<circle cx="73.37" cy="55.15" r="0.9" fill="#000"/><circle cx="69.19" cy="53.55" r="0.9" fill="#000"/><circle cx="65.15" cy="51.16" r="0.9" fill="#000"/><circle cx="61.33" cy="48" r="0.9" fill="#000"/><circle cx="57.78" cy="44.13" r="0.9" fill="#000"/><circle cx="54.55" cy="39.6" r="0.9" fill="#000"/>
<path d="M-1 0L113 0" fill="none" stroke="#000" stroke-width="1.46"/>
<path d="M297.16 0A17.41 25.6 0 1 0 331.98 0A17.41 25.6 0 1 0 297.16 0ZM302.06 0A12.51 18.4 0 1 1 327.08 0A12.51 18.4 0 1 1 302.06 0Z" fill="#fff" stroke="#000" stroke-width="1.34" fill-rule="evenodd"/>
<path d="M295.96 0A17.41 25.6 0 1 0 330.78 0A17.41 25.6 0 1 0 295.96 0ZM300.86 0A12.51 18.4 0 1 1 325.88 0A12.51 18.4 0 1 1 300.86 0Z" fill="#fff" stroke="#000" stroke-width="0.1" fill-rule="evenodd"/>
<ellipse cx="313.37" cy="0" rx="17.41" ry="25.6" fill="none" stroke="#000" stroke-width="1.59"/>
<ellipse cx="313.37" cy="0" rx="12.51" ry="18.4" fill="none" stroke="#000" stroke-width="1.59"/>
<path d="M293.96 0L317.13 0" fill="none" stroke="#000" stroke-width="1.46"/>
<path d="M375 -49.5L410.2 -52A31.2 52 0 0 1 410.2 52L375 49.5A29.7 49.5 0 0 1 375 -49.5Z" fill="#fff" stroke="#000" stroke-width="1.59"/>
<path d="M377.12 -49.69L393.09 -50.83L399.14 -50.12L383.03 -49ZM384.86 -48.38L401.02 -49.49L406.75 -46.2L390.46 -45.16ZM392.14 -43.77L408.46 -44.77L413.49 -39.12L397.05 -38.25ZM398.46 -36.18L414.92 -37.01L418.9 -29.38L402.34 -28.73ZM403.38 -26.12L419.96 -26.72L422.61 -17.64L405.98 -17.25ZM406.57 -14.29L423.22 -14.61L424.38 -4.7L407.7 -4.59ZM407.81 -1.47L424.5 -1.51L424.07 8.57L407.4 8.38ZM407.03 11.44L423.69 11.7L421.72 21.25L405.1 20.77ZM404.26 23.57L420.86 24.11L417.47 32.48L400.95 31.76ZM399.71 34.09L416.2 34.87L411.63 41.5L395.24 40.57ZM393.67 42.3L410.03 43.26L404.58 47.69L388.35 46.63ZM386.57 47.62L402.77 48.7L396.82 50.63L380.76 49.5Z" fill="none" stroke="#000" stroke-width="1.83"/>
<path d="M394.09 -50.83L403.08 -51.54L409.21 -50.82L400.14 -50.12ZM402.02 -49.49L411.12 -50.18L416.93 -46.84L407.75 -46.2ZM409.46 -44.77L418.67 -45.4L423.76 -39.67L414.49 -39.12ZM415.92 -37.01L425.22 -37.52L429.25 -29.79L419.9 -29.38ZM420.96 -26.72L430.32 -27.09L433.01 -17.89L423.61 -17.64ZM424.22 -14.61L433.63 -14.82L434.8 -4.76L425.38 -4.7ZM425.5 -1.51L434.92 -1.53L434.49 8.69L425.07 8.57ZM424.69 11.7L434.11 11.86L432.11 21.55L422.72 21.25ZM421.86 24.11L431.24 24.44L427.8 32.93L418.47 32.48ZM417.2 34.87L426.51 35.36L421.88 42.08L412.63 41.5ZM411.03 43.26L420.26 43.87L414.73 48.36L405.58 47.69ZM403.77 48.7L412.89 49.39L406.86 51.34L397.82 50.63Z" fill="none" stroke="#000" stroke-width="1.46"/>
<circle cx="404.92" cy="-41.8" r="1.2" fill="#000"/><circle cx="415.19" cy="-22.1" r="1.2" fill="#000"/><circle cx="418.18" cy="3.52" r="1.2" fill="#000"/><circle cx="413.08" cy="28.2" r="1.2" fill="#000"/><circle cx="401.26" cy="45.32" r="1.2" fill="#000"/>
<path d="M402.3 -51.43A30.98 51.63 0 1 1 402.3 51.43" fill="none" stroke="#000" stroke-width="1.22"/>
<path d="M374.4 -49.52A29.83 49.71 0 1 1 374.4 49.52" fill="none" stroke="#000" stroke-width="2.2"/>
<ellipse cx="375.4" cy="0" rx="33.32" ry="49" fill="#fff" stroke="#000" stroke-width="1.34"/>
<ellipse cx="377" cy="0" rx="33.32" ry="49" fill="#fff" stroke="#000" stroke-width="1.46"/>
<circle cx="349.21" cy="22.75" r="0.9" fill="#000"/><circle cx="345.18" cy="-3.97" r="0.9" fill="#000"/><circle cx="350.66" cy="-26.1" r="0.9" fill="#000"/><circle cx="362.92" cy="-41.24" r="0.9" fill="#000"/><circle cx="360.53" cy="39.4" r="0.9" fill="#000"/><circle cx="370.63" cy="44.81" r="0.9" fill="#000"/><circle cx="378.7" cy="-45.33" r="0.9" fill="#000"/>
<ellipse cx="378" cy="0" rx="29.24" ry="43" fill="none" stroke="#000" stroke-width="1.22"/>
<ellipse cx="379" cy="0" rx="26.18" ry="38.5" fill="none" stroke="#000" stroke-width="3.2"/>
<path d="M392.4 30.31A23.8 35 0 1 1 392.4 -30.31" fill="none" stroke="#000" stroke-width="1.22"/>
<ellipse cx="380" cy="0" rx="20.4" ry="30" fill="#fff" stroke="#000" stroke-width="2.8"/>
<path d="M384.13 26.1A18.02 26.5 0 1 1 387.16 -24.9" fill="none" stroke="#000" stroke-width="1.22"/>
<ellipse cx="380" cy="0" rx="15.3" ry="22.5" fill="#fff" stroke="#000" stroke-width="2.6"/>
<ellipse cx="381" cy="0" rx="12.58" ry="18.5" fill="none" stroke="#000" stroke-width="1.22"/>
<ellipse cx="382" cy="0" rx="9.86" ry="14.5" fill="#fff" stroke="#000" stroke-width="3"/>
<ellipse cx="383" cy="0" rx="6.46" ry="9.5" fill="none" stroke="#000" stroke-width="1.71"/>
<circle cx="386.13" cy="3.86" r="1" fill="#000"/><circle cx="382.29" cy="5.91" r="1" fill="#000"/><circle cx="379.17" cy="2.05" r="1" fill="#000"/><circle cx="379.87" cy="-3.86" r="1" fill="#000"/><circle cx="383.71" cy="-5.91" r="1" fill="#000"/><circle cx="386.83" cy="-2.05" r="1" fill="#000"/>
<path d="M321.68 0L383 0" fill="none" stroke="#000" stroke-width="1.46"/>
<path d="M486.5 -41.8L504.5 -41.8A25.08 41.8 0 0 1 504.5 41.8L486.5 41.8A25.08 41.8 0 0 1 486.5 -41.8Z" fill="#fff" stroke="#000" stroke-width="1.59"/>
<path d="M493.86 -41.16L506.86 -41.16L522.26 -25.73L509.26 -25.73Z" fill="#fff" stroke="#000" stroke-width="1.59"/>
<path d="M505.23 -41.16L507.18 -41.07M493.86 -41.16L509.41 -40.18M496.1 -40.33L511.59 -38.96M498.28 -39.15L513.69 -37.41M500.4 -37.65L515.7 -35.54M502.42 -35.83L517.59 -33.38M504.33 -33.71L519.36 -30.94M506.12 -31.31L520.99 -28.24M507.77 -28.64L520.64 -25.73" fill="none" stroke="#000" stroke-width="1.59"/>
<path d="M509.79 24.57L522.79 24.57L506.86 41.16L493.86 41.16Z" fill="#fff" stroke="#000" stroke-width="1.59"/>
<path d="M521.71 24.57L522.66 24.86M509.79 24.57L521.14 27.97M508.28 27.7L519.44 30.82M506.6 30.57L517.59 33.38M504.77 33.16L515.6 35.64M502.79 35.45L513.49 37.57M500.69 37.41L511.28 39.15M498.49 39.02L508.99 40.38M496.2 40.28L505.77 41.16" fill="none" stroke="#000" stroke-width="1.59"/>
<ellipse cx="520.56" cy="1.46" rx="2.3" ry="3.3" fill="#000"/>
<path d="M482.5 -41.8L488.5 -41.8A25.08 41.8 0 0 1 488.5 41.8L482.5 41.8A25.08 41.8 0 0 1 482.5 -41.8Z" fill="#fff" stroke="#000" stroke-width="1.22"/>
<path d="M485.81 -41.64A25.08 41.8 0 1 1 485.81 41.64" fill="none" stroke="#000" stroke-width="2.8"/>
<path d="M483.31 -41.64A25.08 41.8 0 1 1 483.31 41.64" fill="none" stroke="#000" stroke-width="1.71"/>
<ellipse cx="482.5" cy="0" rx="25.08" ry="41.8" fill="#fff" stroke="#000" stroke-width="3"/>
<path d="M461.06 -6.39A22.08 36.8 0 1 1 461.06 6.39" fill="none" stroke="#000" stroke-width="2.8"/>
<ellipse cx="483" cy="0" rx="16.08" ry="26.8" fill="none" stroke="#000" stroke-width="1.34"/>
<ellipse cx="483.5" cy="0" rx="8.1" ry="13.5" fill="#000" stroke="#000" stroke-width="2.4"/>
<ellipse cx="484.9" cy="0" rx="4.5" ry="7.5" fill="#fff" stroke="#000" stroke-width="1.95"/>
<circle cx="487.3" cy="0" r="1" fill="#000"/><circle cx="483.7" cy="3.46" r="1" fill="#000"/><circle cx="483.7" cy="-3.46" r="1" fill="#000"/>
<path d="M441.42 0L484.5 0" fill="none" stroke="#000" stroke-width="1.46"/>
<path d="M601.3 -55L617 -55A33.55 55 0 0 1 617 55L601.3 55A33.55 55 0 0 1 601.3 -55Z" fill="#fff" stroke="#000" stroke-width="1.59"/>
<path d="M581.3 -49.5L604.3 -49.5A30.2 49.5 0 0 1 604.3 49.5L581.3 49.5A30.2 49.5 0 0 1 581.3 -49.5Z" fill="#fff" stroke="#000" stroke-width="1.22"/>
<path d="M585.38 -49.47L603.38 -49.47L607.96 -48.62L589.96 -48.62ZM592.07 -47.83L610.07 -47.83L614.42 -45.34L596.42 -45.34ZM598.37 -43.8L616.37 -43.8L620.27 -39.78L602.27 -39.78ZM603.96 -37.57L621.96 -37.57L625.22 -32.23L607.22 -32.23ZM608.57 -29.45L626.57 -29.45L629.02 -23.06L611.02 -23.06ZM611.96 -19.86L629.96 -19.86L631.48 -12.74L613.48 -12.74ZM613.96 -9.28L631.96 -9.28L632.48 -1.78L614.48 -1.78ZM614.48 1.78L632.48 1.78L631.96 9.28L613.96 9.28ZM613.48 12.74L631.48 12.74L629.96 19.86L611.96 19.86ZM611.02 23.06L629.02 23.06L626.57 29.45L608.57 29.45ZM607.22 32.23L625.22 32.23L621.96 37.57L603.96 37.57ZM602.27 39.78L620.27 39.78L616.37 43.8L598.37 43.8ZM596.42 45.34L614.42 45.34L610.07 47.83L592.07 47.83ZM589.96 48.62L607.96 48.62L603.38 49.47L585.38 49.47Z" fill="none" stroke="#000" stroke-width="1.71"/>
<circle cx="603.27" cy="-46.72" r="1.2" fill="#000"/><circle cx="618.87" cy="-26.34" r="1.2" fill="#000"/><circle cx="623.31" cy="5.54" r="1.2" fill="#000"/><circle cx="614.65" cy="35" r="1.2" fill="#000"/><circle cx="596.68" cy="49.19" r="1.2" fill="#000"/>
<path d="M601.04 -51.8A31.72 52 0 1 1 601.04 51.8" fill="none" stroke="#000" stroke-width="1.46"/>
<path d="M579.67 -49.31A30.2 49.5 0 1 1 579.67 49.31" fill="none" stroke="#000" stroke-width="2.68"/>
<ellipse cx="581.1" cy="0" rx="32.94" ry="54" fill="#fff" stroke="#000" stroke-width="1.22"/>
<ellipse cx="579.3" cy="0" rx="32.94" ry="54" fill="#fff" stroke="#000" stroke-width="1.59"/>
<circle cx="550.74" cy="-4.1" r="1" fill="#000"/><circle cx="557.99" cy="-31.45" r="1" fill="#000"/><circle cx="568.56" cy="43.58" r="1" fill="#000"/><circle cx="569.49" cy="-44.17" r="1" fill="#000"/><circle cx="554.47" cy="23.5" r="1" fill="#000"/>
<ellipse cx="583.3" cy="0" rx="24.4" ry="40" fill="#fff" stroke="#000" stroke-width="1.22"/>
<path d="M578.3 36.71A23.18 38 0 1 1 605.31 -16.06" fill="none" stroke="#000" stroke-width="3"/>
<path d="M583.7 33.48A20.74 34 0 1 1 597.67 -29.44" fill="none" stroke="#000" stroke-width="1.71"/>
<path d="M609.61 3.49A24.4 40 0 0 1 578.98 38.64" fill="none" stroke="#000" stroke-width="2.4"/>
<ellipse cx="599.3" cy="0" rx="17.08" ry="28" fill="#000" stroke="#000" stroke-width="1.22"/>
<path d="M579.3 -20L596.3 -20A12.2 20 0 0 1 596.3 20L579.3 20A12.2 20 0 0 1 579.3 -20Z" fill="#fff" stroke="#000" stroke-width="1.22"/>
<path d="M579.73 -19.99L596.73 -19.99M581.21 -19.75L598.21 -19.75M582.66 -19.23L599.66 -19.23M584.07 -18.41L601.07 -18.41M585.4 -17.32L602.4 -17.32M586.64 -15.97L603.64 -15.97M587.77 -14.39L604.77 -14.39M588.78 -12.59L605.78 -12.59M589.65 -10.6L606.65 -10.6M590.36 -8.45L607.36 -8.45M590.9 -6.18L607.9 -6.18M591.28 -3.82L608.28 -3.82M591.47 -1.4L608.47 -1.4M591.48 1.05L608.48 1.05M591.31 3.47L608.31 3.47M590.97 5.85L607.97 5.85M590.45 8.13L607.45 8.13M589.76 10.3L606.76 10.3M588.91 12.31L605.91 12.31M587.93 14.14L604.93 14.14M586.81 15.76L603.81 15.76M585.58 17.14L602.58 17.14M584.26 18.27L601.26 18.27M582.87 19.13L599.87 19.13M581.42 19.7L598.42 19.7M579.94 19.97L596.94 19.97" fill="none" stroke="#000" stroke-width="1.46"/>
<ellipse cx="579.3" cy="0" rx="12.2" ry="20" fill="#fff" stroke="#000" stroke-width="2.2"/>
<ellipse cx="580.3" cy="0" rx="10.37" ry="17" fill="none" stroke="#000" stroke-width="1.22"/>
<path d="M582.3 16A9.76 16 0 1 1 587.18 -13.86" fill="none" stroke="#000" stroke-width="2.2"/>
<path d="M583.71 14.77A9.15 15 0 1 1 588.43 -14.1" fill="none" stroke="#000" stroke-width="1.59"/>
<path d="M585.38 13.16A8.54 14 0 0 1 589.78 -13.79" fill="none" stroke="#000" stroke-width="1.59"/>
<path d="M528.36 0L583.3 0" fill="none" stroke="#000" stroke-width="1.46"/>
<path d="M663.16 0A17.14 25.2 0 1 0 697.44 0A17.14 25.2 0 1 0 663.16 0ZM667.45 0A12.85 18.9 0 1 1 693.15 0A12.85 18.9 0 1 1 667.45 0Z" fill="#fff" stroke="#000" stroke-width="1.34" fill-rule="evenodd"/>
<path d="M661.96 0A17.14 25.2 0 1 0 696.24 0A17.14 25.2 0 1 0 661.96 0ZM666.25 0A12.85 18.9 0 1 1 691.95 0A12.85 18.9 0 1 1 666.25 0Z" fill="#fff" stroke="#000" stroke-width="0.1" fill-rule="evenodd"/>
<ellipse cx="679.1" cy="0" rx="17.14" ry="25.2" fill="none" stroke="#000" stroke-width="1.59"/>
<ellipse cx="679.1" cy="0" rx="12.85" ry="18.9" fill="none" stroke="#000" stroke-width="1.59"/>
<path d="M659.96 0L682.96 0" fill="none" stroke="#000" stroke-width="1.46"/>
</g>
<g transform="translate(13.7 778.8) rotate(-22.83)">
<path d="M0 0L859.09 0" fill="none" stroke="#000" stroke-width="1.46"/>
<path d="M129.5 -77.5L198 -77.5A49.6 77.5 0 0 1 198 77.5L129.5 77.5A49.6 77.5 0 0 1 129.5 -77.5Z" fill="#fff" stroke="#000" stroke-width="1.46"/>
<path d="M199.15 -76.58A49.28 77 0 0 1 199.15 76.58" fill="none" stroke="#000" stroke-width="1.95"/>
<path d="M136.82 -76.66L131.36 -76.24L127.67 -76.09L125.76 -76.24L125.62 -76.66L127.28 -77.17L130.74 -77.49L135.72 -77.22L139.86 -76.48L143.58 -75.68L146.93 -75.09L149.9 -74.87L152.53 -75.09L154.78 -75.68L157.14 -76.42L158.48 -76.92L158.41 -77.26L156.93 -77.45L154.05 -77.5L149.77 -77.39L144.09 -77.14Z" fill="#fff" stroke="#000" stroke-width="1.95"/>
<path d="M170.06 -66.04L164.8 -67.34L161.18 -67.76L159.2 -67.34L158.86 -66.04L160.09 -63.71L162.79 -60.13L166.5 -54.92L169.45 -50.55L172.22 -47.24L174.94 -45.19L177.71 -44.5L180.54 -45.19L183.42 -47.24L186.65 -50.27L188.7 -52.82L189.28 -55.26L188.39 -57.59L186.04 -59.82L182.22 -61.93L176.95 -63.92Z" fill="#fff" stroke="#000" stroke-width="1.95"/>
<path d="M162.73 -61.34L182.52 -61.34M168.29 -53.52L188.07 -53.52" fill="none" stroke="#000" stroke-width="1.22"/>
<path d="M191.15 -24.51L186.76 -26.93L183.42 -27.72L181.16 -26.93L179.95 -24.51L179.69 -20.44L180.21 -14.63L180.9 -6.92L181.45 -0.96L182.46 3.3L184.11 5.85L186.51 6.7L189.71 5.85L193.66 3.3L198.5 -0.6L201.93 -4L203.87 -7.4L204.32 -10.79L203.27 -14.15L200.72 -17.49L196.68 -20.79Z" fill="#fff" stroke="#000" stroke-width="1.95"/>
<path d="M180.62 -22.19L193.82 -22.19M180.87 -16.54L200.66 -16.54M181.42 -10.79L203.52 -10.79M181.91 -4.97L201.7 -4.97M182.7 0.87L195.9 0.87" fill="none" stroke="#000" stroke-width="1.46"/>
<path d="M190.23 28.48L186.96 26.09L183.99 25.28L181.36 26.09L179.03 28.48L176.91 32.4L174.83 37.71L172.19 44.32L170.24 49.08L169.5 52.3L170.13 54.16L172.2 54.76L175.73 54.16L180.7 52.3L187.14 49.36L191.99 46.68L195.37 43.92L197.26 41.07L197.68 38.14L196.61 35.14L194.06 32.06Z" fill="#fff" stroke="#000" stroke-width="1.95"/>
<path d="M177.35 33.39L194.36 33.39M174.36 41.07L196.46 41.07M171.41 48.22L188.43 48.22" fill="none" stroke="#000" stroke-width="1.22"/>
<path d="M167.72 68.15L165.3 66.89L162.62 66.46L159.7 66.89L156.52 68.15L153.04 70.07L149.18 72.41L144.44 74.82L141.07 76.15L139.43 76.83L139.55 77.12L141.46 77.2L145.15 77.12L150.63 76.83L157.89 76.22L163.52 75.53L167.74 74.69L170.53 73.71L171.89 72.58L171.81 71.32L170.3 69.92Z" fill="#fff" stroke="#000" stroke-width="1.95"/>
<path d="M151.25 71.69L171.04 71.69M144.14 75.3L163.93 75.3" fill="none" stroke="#000" stroke-width="1.22"/>
<path d="M201.43 -65.41L206.51 -64L210.01 -63.52L211.93 -64L212.25 -65.41L210.93 -67.59L207.87 -70.31L203.25 -73.22L199.26 -74.96L195.59 -75.93L192.29 -76.4L189.38 -76.54L186.87 -76.4L184.76 -75.93L182.55 -75.05L181.27 -74.13L181.31 -73.06L182.67 -71.86L185.35 -70.51L189.35 -69.03L194.65 -67.41Z" fill="#fff" stroke="#000" stroke-width="1.95"/>
<path d="M183.52 -75.12L199.56 -74.41M182.11 -73.1L204.3 -72.15M186.27 -70.47L208.4 -69.3M195.96 -67.27L211.82 -65.88" fill="none" stroke="#000" stroke-width="1.46"/>
<path d="M222.11 -23.38L226.3 -20.93L229.49 -20.11L231.71 -20.93L232.94 -23.38L233.06 -27.41L231.91 -32.9L229.57 -39.78L227.15 -44.77L224.5 -48.18L221.77 -50.16L219.04 -50.8L216.35 -50.16L213.67 -48.18L210.53 -45.07L208.38 -42.25L207.49 -39.36L207.88 -36.38L209.54 -33.34L212.47 -30.23L216.66 -27.07Z" fill="#fff" stroke="#000" stroke-width="1.95"/>
<path d="M214.39 -48.11L224.81 -45.96M211.57 -45.31L226.93 -43.09M209.3 -42.42L228.46 -40.13M208.32 -39.44L229.75 -37.09M208.68 -36.38L230.78 -33.97M210.43 -33.25L231.72 -30.79M213.51 -30.05L232.39 -27.54M217.87 -26.79L232.82 -24.24M222.77 -23.47L232.64 -20.88" fill="none" stroke="#000" stroke-width="2.07"/>
<path d="M220.66 29.58L223.74 31.93L226.55 32.7L229.15 31.93L231.49 29.58L233.48 25.6L234.94 19.9L235.97 12.28L236.09 6.36L235.23 2.11L233.55 -0.45L231.18 -1.3L228.14 -0.45L224.4 2.11L219.63 6L216.03 9.39L213.69 12.76L212.61 16.11L212.78 19.43L214.22 22.71L216.92 25.95Z" fill="#fff" stroke="#000" stroke-width="1.95"/>
<path d="M225.08 2.21L234.37 4.91M220.79 5.71L235.01 8.4M217.04 9.2L235.04 11.88M214.56 12.67L234.82 15.33M213.41 16.11L234.33 18.75M213.62 19.52L233.73 22.13M215.18 22.9L232.87 25.47M218 26.22L231.77 28.75M221.37 29.49L230.05 31.98" fill="none" stroke="#000" stroke-width="2.07"/>
<path d="M197.77 68.71L200.03 69.85L202.58 70.22L205.44 69.85L208.6 68.71L211.99 66.63L215.53 63.39L219.46 58.6L221.91 54.52L222.76 51.41L222.13 49.47L220.11 48.81L216.72 49.47L211.93 51.41L205.59 54.26L200.65 56.64L196.99 58.91L194.63 61.07L193.56 63.11L193.78 65.03L195.31 66.82Z" fill="#fff" stroke="#000" stroke-width="1.95"/>
<path d="M204.28 55.3L219.42 57.16M195.43 61.07L215.35 62.7M195.46 66.07L210.36 67.44" fill="none" stroke="#000" stroke-width="1.22"/>
<path d="M164.14 75.68L166.27 75.09L168.78 74.87L171.68 75.09L174.96 75.68L178.65 76.48L182.78 77.22L187.76 77.49L191.23 77.17L192.93 76.66L192.85 76.24L191.02 76.09L187.44 76.24L182.1 76.66L174.99 77.14L169.43 77.39L165.22 77.5L162.36 77.45L160.86 77.26L160.72 76.92L161.94 76.42Z" fill="#fff" stroke="#000" stroke-width="1.95"/>
<path d="M112.5 -80L129.5 -80A51.2 80 0 0 1 129.5 80L112.5 80A51.2 80 0 0 1 112.5 -80Z" fill="#fff" stroke="#000" stroke-width="1.22"/>
<path d="M114.54 -79.98L130.54 -79.98L133.65 -79.74L117.65 -79.74ZM119.71 -79.41L135.71 -79.41L138.79 -78.67L122.79 -78.67ZM124.82 -78.02L140.82 -78.02L143.83 -76.8L127.83 -76.8ZM129.81 -75.83L145.81 -75.83L148.73 -74.14L132.73 -74.14ZM134.64 -72.86L150.64 -72.86L153.44 -70.72L137.44 -70.72ZM139.25 -69.15L155.25 -69.15L157.89 -66.57L141.89 -66.57ZM143.59 -64.72L159.59 -64.72L162.06 -61.74L146.06 -61.74ZM147.63 -59.63L163.63 -59.63L165.89 -56.28L149.89 -56.28ZM151.32 -53.93L167.32 -53.93L169.34 -50.24L153.34 -50.24ZM154.61 -47.68L170.61 -47.68L172.39 -43.68L156.39 -43.68ZM157.49 -40.93L173.49 -40.93L175 -36.68L159 -36.68ZM159.92 -33.77L175.92 -33.77L177.14 -29.3L161.14 -29.3ZM161.86 -26.26L177.86 -26.26L178.8 -21.62L162.8 -21.62ZM163.32 -18.48L179.32 -18.48L179.94 -13.71L163.94 -13.71ZM164.26 -10.51L180.26 -10.51L180.57 -5.67L164.57 -5.67ZM164.68 -2.43L180.68 -2.43L180.68 2.43L164.68 2.43ZM164.57 5.67L180.57 5.67L180.26 10.51L164.26 10.51ZM163.94 13.71L179.94 13.71L179.32 18.48L163.32 18.48ZM162.8 21.62L178.8 21.62L177.86 26.26L161.86 26.26ZM161.14 29.3L177.14 29.3L175.92 33.77L159.92 33.77ZM159 36.68L175 36.68L173.49 40.93L157.49 40.93ZM156.39 43.68L172.39 43.68L170.61 47.68L154.61 47.68ZM153.34 50.24L169.34 50.24L167.32 53.93L151.32 53.93ZM149.89 56.28L165.89 56.28L163.63 59.63L147.63 59.63ZM146.06 61.74L162.06 61.74L159.59 64.72L143.59 64.72ZM141.89 66.57L157.89 66.57L155.25 69.15L139.25 69.15ZM137.44 70.72L153.44 70.72L150.64 72.86L134.64 72.86ZM132.73 74.14L148.73 74.14L145.81 75.83L129.81 75.83ZM127.83 76.8L143.83 76.8L140.82 78.02L124.82 78.02ZM122.79 78.67L138.79 78.67L135.71 79.41L119.71 79.41ZM117.65 79.74L133.65 79.74L130.54 79.98L114.54 79.98Z" fill="#000" stroke="#000" stroke-width="0.98"/>
<path d="M127.71 -79.95A51.2 80 0 1 1 127.71 79.95" fill="none" stroke="#000" stroke-width="1.71"/>
<ellipse cx="112.5" cy="0" rx="51.2" ry="80" fill="#fff" stroke="#000" stroke-width="1.46"/>
<clipPath id="c67"><ellipse cx="112.5" cy="0" rx="49.28" ry="77"/></clipPath>
<g clip-path="url(#c67)"><path d="M185.96 72.22A46.4 72.5 0 0 1 185.96 -72.22" fill="none" stroke="#000" stroke-width="1.22"/><path d="M181.9 73.22A47.04 73.5 0 0 1 181.9 -73.22" fill="none" stroke="#000" stroke-width="1.22"/><path d="M132.55 72.99L130.24 73.44L127.61 73.57L124.64 73.44L121.35 72.99L117.74 72.06L113.88 70.39L109.44 67.59L106.52 64.98L105.32 62.87L105.76 61.52L107.78 61.06L111.36 61.52L116.52 62.87L123.38 64.8L128.72 66.36L132.71 67.78L135.34 69.08L136.6 70.24L136.49 71.26L135.01 72.15Z" fill="#fff" stroke="#000" stroke-width="1.95"/><path d="M104.75 46.32L101.9 48.22L99.09 48.84L96.3 48.22L93.55 46.32L90.93 43.04L88.58 38.24L86.33 31.63L85.25 26.35L85.44 22.48L86.74 20.12L89.05 19.33L92.34 20.12L96.64 22.48L102.22 26.02L106.5 29.06L109.46 32.05L111.1 34.98L111.43 37.83L110.43 40.62L108.11 43.33Z" fill="#fff" stroke="#000" stroke-width="1.95"/><path d="M94.44 -2.03L90.57 0.43L87.43 1.25L84.97 0.43L83.24 -2.03L82.33 -6.12L82.42 -11.81L83.42 -19.13L84.85 -24.61L86.83 -28.44L89.2 -30.69L91.87 -31.44L94.8 -30.69L98.03 -28.44L101.97 -24.94L104.81 -21.83L106.34 -18.68L106.56 -15.49L105.47 -12.27L103.07 -9.03L99.36 -5.77Z" fill="#fff" stroke="#000" stroke-width="1.95"/><path d="M106.42 -49.42L101.55 -47.56L98.07 -46.92L95.95 -47.56L95.22 -49.42L95.96 -52.41L98.29 -56.33L102.07 -60.94L105.5 -64.05L108.84 -66.05L112 -67.15L114.92 -67.5L117.6 -67.15L120.04 -66.05L122.74 -64.23L124.46 -62.51L124.83 -60.67L123.85 -58.71L121.52 -56.63L117.86 -54.45L112.86 -52.16Z" fill="#fff" stroke="#000" stroke-width="1.95"/><path d="M135.1 -73.69L129.7 -73.29L126.03 -73.14L124.1 -73.29L123.9 -73.69L125.45 -74.18L128.77 -74.49L133.56 -74.23L137.55 -73.52L141.17 -72.75L144.45 -72.18L147.41 -71.97L150.05 -72.18L152.37 -72.75L154.82 -73.47L156.24 -73.94L156.26 -74.27L154.86 -74.45L152.07 -74.5L147.87 -74.4L142.28 -74.15Z" fill="#fff" stroke="#000" stroke-width="1.95"/><path d="M160.55 72.75L162.74 72.18L165.28 71.97L168.15 72.18L171.38 72.75L174.96 73.52L178.94 74.23L183.73 74.49L187.06 74.18L188.64 73.69L188.5 73.29L186.65 73.14L183.09 73.29L177.82 73.69L170.8 74.15L165.33 74.4L161.2 74.5L158.43 74.45L157.01 74.27L156.95 73.94L158.26 73.47Z" fill="#fff" stroke="#000" stroke-width="1.95"/><path d="M133.02 45.41L135.81 43.44L138.55 42.77L141.22 43.44L143.85 45.41L146.52 48.59L149.36 52.79L152.92 57.8L155.51 61.24L156.69 63.48L156.35 64.73L154.44 65.13L150.94 64.73L145.86 63.48L139.21 61.44L134.13 59.53L130.45 57.5L128.19 55.36L127.34 53.12L127.9 50.77L129.89 48.32Z" fill="#fff" stroke="#000" stroke-width="1.95"/><path d="M123.18 -3.17L127 -5.62L130.09 -6.44L132.41 -5.62L134.01 -3.17L134.99 0.92L135.51 6.65L136.18 14.06L136.67 19.65L136.41 23.57L135.25 25.88L133.06 26.65L129.83 25.88L125.59 23.57L120.25 19.98L116.35 16.81L113.89 13.6L112.87 10.37L113.3 7.11L115.18 3.85L118.5 0.57Z" fill="#fff" stroke="#000" stroke-width="1.95"/><path d="M135.63 -50.27L140.43 -52.06L143.85 -52.64L145.85 -52.06L146.46 -50.27L145.76 -47.18L143.89 -42.6L141.35 -36.25L139.35 -31.14L137.3 -27.38L135.06 -25.08L132.52 -24.3L129.64 -25.08L126.48 -27.38L122.77 -30.82L120.3 -33.78L119.26 -36.66L119.66 -39.48L121.48 -42.22L124.74 -44.88L129.42 -47.45Z" fill="#fff" stroke="#000" stroke-width="1.95"/><path d="M164.55 -73.85L169.83 -74.14L173.4 -74.21L175.24 -74.14L175.37 -73.85L173.8 -73.2L170.56 -71.92L166.01 -69.61L162.29 -67.36L158.94 -65.51L155.88 -64.3L153.06 -63.89L150.46 -64.3L148.11 -65.51L145.61 -67.21L144.14 -68.56L144.05 -69.77L145.36 -70.85L148.04 -71.8L152.1 -72.6L157.54 -73.27Z" fill="#fff" stroke="#000" stroke-width="1.95"/><path d="M110.78 76.95A49.28 77 0 0 1 110.78 -76.95L133.78 -76.95A49.28 77 0 0 0 133.78 76.95Z" fill="#fff" stroke="#fff" stroke-width="0.1"/><path d="M133.78 76.95A49.28 77 0 0 1 133.78 -76.95" fill="none" stroke="#000" stroke-width="1.71"/><path d="M136.3 75.95A48.64 76 0 0 1 136.3 -75.95" fill="none" stroke="#000" stroke-width="1.22"/><path d="M110.42 76.89L131.42 76.89M105.29 76.05L126.29 76.05M100.25 74.38L121.25 74.38M95.34 71.89L116.34 71.89M90.63 68.61L111.63 68.61M86.16 64.58L107.16 64.58M81.99 59.84L102.99 59.84M78.15 54.45L99.15 54.45M74.7 48.46L95.7 48.46M71.67 41.94L92.67 41.94M69.09 34.96L90.09 34.96M66.99 27.59L87.99 27.59M65.4 19.93L86.4 19.93M64.33 12.05L85.33 12.05M63.79 4.03L84.79 4.03M63.79 -4.03L84.79 -4.03M64.33 -12.05L85.33 -12.05M65.4 -19.93L86.4 -19.93M66.99 -27.59L87.99 -27.59M69.09 -34.96L90.09 -34.96M71.67 -41.94L92.67 -41.94M74.7 -48.46L95.7 -48.46M78.15 -54.45L99.15 -54.45M81.99 -59.84L102.99 -59.84M86.16 -64.58L107.16 -64.58M90.63 -68.61L111.63 -68.61M95.34 -71.89L116.34 -71.89M100.25 -74.38L121.25 -74.38M105.29 -76.05L126.29 -76.05M110.42 -76.89L131.42 -76.89" fill="none" stroke="#000" stroke-width="2.6"/><path d="M128.85 76.58L130.35 76.58M123.75 75.32L125.25 75.32M118.77 73.23L120.27 73.23M113.96 70.34L115.46 70.34M109.36 66.68L110.86 66.68M105.03 62.29L106.53 62.29M101.03 57.22L102.53 57.22M97.38 51.52L98.88 51.52M94.13 45.26L95.63 45.26M91.32 38.5L92.82 38.5M88.98 31.32L90.48 31.32M87.13 23.79L88.63 23.79M85.8 16.01L87.3 16.01M84.99 8.05L86.49 8.05M84.72 0L86.22 0M84.99 -8.05L86.49 -8.05M85.8 -16.01L87.3 -16.01M87.13 -23.79L88.63 -23.79M88.98 -31.32L90.48 -31.32M91.32 -38.5L92.82 -38.5M94.13 -45.26L95.63 -45.26M97.38 -51.52L98.88 -51.52M101.03 -57.22L102.53 -57.22M105.03 -62.29L106.53 -62.29M109.36 -66.68L110.86 -66.68M113.96 -70.34L115.46 -70.34M118.77 -73.23L120.27 -73.23M123.75 -75.32L125.25 -75.32M128.85 -76.58L130.35 -76.58M134 -77L135.5 -77" fill="none" stroke="#000" stroke-width="1.46"/><path d="M132.28 76.95A49.28 77 0 0 1 132.28 -76.95" fill="none" stroke="#000" stroke-width="1.22"/></g>
<path d="M108.2 -76.71A49.28 77 0 1 1 108.2 76.71" fill="none" stroke="#000" stroke-width="1.22"/>
<path d="M116.8 -73.22A47.04 73.5 0 0 1 116.8 73.22" fill="none" stroke="#000" stroke-width="1.22"/>
<path d="M120.74 -69.43A45.12 70.5 0 0 1 120.74 69.43" fill="none" stroke="#000" stroke-width="1.22"/>
<path d="M107.17 79.26L107 81.75L104 81.12L104.26 78.65L101.89 77.96L101.56 80.4L98.62 79.29L99.04 76.88L96.74 75.8L96.24 78.18L93.39 76.59L93.97 74.26L91.75 72.81L91.1 75.09L88.37 73.04L89.11 70.82L87 69.02L86.2 71.19L83.62 68.7L84.5 66.61L82.52 64.48L81.58 66.5L79.18 63.61L80.19 61.68L78.37 59.23L77.3 61.09L75.11 57.82L76.24 56.06L74.59 53.33L73.4 55L71.44 51.39L72.69 49.83L71.23 46.85L69.94 48.32L68.23 44.41L69.58 43.06L68.33 39.85L66.94 41.1L65.5 36.93L66.93 35.81L65.9 32.42L64.44 33.43L63.29 29.06L64.78 28.17L63.99 24.63L62.47 25.4L61.61 20.86L63.16 20.22L62.61 16.57L61.04 17.09L60.5 12.43L62.08 12.06L61.77 8.33L60.18 8.59L59.95 3.87L61.55 3.75L61.49 0L59.89 0L59.98 -4.73L61.58 -4.59L61.77 -8.33L60.18 -8.59L60.58 -13.28L62.16 -12.88L62.61 -16.57L61.04 -17.09L61.76 -21.69L63.3 -21.03L63.99 -24.63L62.47 -25.4L63.49 -29.86L64.98 -28.95L65.9 -32.42L64.44 -33.43L65.75 -37.7L67.17 -36.55L68.33 -39.85L66.94 -41.1L68.53 -45.13L69.87 -43.76L71.23 -46.85L69.94 -48.32L71.79 -52.06L73.03 -50.48L74.59 -53.33L73.4 -55L75.5 -58.43L76.62 -56.65L78.37 -59.23L77.3 -61.09L79.61 -64.15L80.61 -62.2L82.52 -64.48L81.58 -66.5L84.08 -69.17L84.94 -67.07L87 -69.02L86.2 -71.19L88.86 -73.44L89.58 -71.2L91.75 -72.81L91.1 -75.09L93.9 -76.89L94.47 -74.55L96.74 -75.8L96.24 -78.18L99.15 -79.51L99.56 -77.09L101.89 -77.96L101.56 -80.4L104.54 -81.25L104.78 -78.78L107.17 -79.26L107 -81.75" fill="none" stroke="#000" stroke-width="1.71"/>
<path d="M108.04 79.7A51.2 80 0 0 1 108.04 -79.7" fill="none" stroke="#000" stroke-width="1.22"/>
<path d="M21.3 0L162.7 0" fill="none" stroke="#000" stroke-width="1.46"/>
<path d="M18.13 0A16.59 24.4 0 1 0 51.32 0A16.59 24.4 0 1 0 18.13 0ZM21.47 0A13.26 19.5 0 1 1 47.99 0A13.26 19.5 0 1 1 21.47 0Z" fill="#fff" stroke="#000" stroke-width="1.34" fill-rule="evenodd"/>
<path d="M16.93 0A16.59 24.4 0 1 0 50.12 0A16.59 24.4 0 1 0 16.93 0ZM20.27 0A13.26 19.5 0 1 1 46.79 0A13.26 19.5 0 1 1 20.27 0Z" fill="#fff" stroke="#000" stroke-width="0.1" fill-rule="evenodd"/>
<ellipse cx="33.53" cy="0" rx="16.59" ry="24.4" fill="none" stroke="#000" stroke-width="1.59"/>
<ellipse cx="33.53" cy="0" rx="13.26" ry="19.5" fill="none" stroke="#000" stroke-width="1.59"/>
<path d="M14.93 0L37.5 0" fill="none" stroke="#000" stroke-width="1.46"/>
<path d="M298.7 -64L311.7 -64A39.68 64 0 0 1 311.7 64L298.7 64A39.68 64 0 0 1 298.7 -64Z" fill="#fff" stroke="#000" stroke-width="1.34"/>
<path d="M298.94 -64.5L311.44 -64.5L315.15 -64.26L302.65 -64.26ZM304.9 -63.84L317.4 -63.84L321.05 -62.71L308.55 -62.71ZM310.74 -61.76L323.24 -61.76L326.74 -59.77L314.24 -59.77ZM316.32 -58.29L328.82 -58.29L332.09 -55.49L319.59 -55.49ZM321.51 -53.53L334.01 -53.53L336.99 -49.96L324.49 -49.96ZM326.21 -47.57L338.71 -47.57L341.32 -43.33L328.82 -43.33ZM330.3 -40.54L342.8 -40.54L345 -35.72L332.5 -35.72ZM333.7 -32.61L346.2 -32.61L347.93 -27.32L335.43 -27.32ZM336.33 -23.95L348.83 -23.95L350.05 -18.3L337.55 -18.3ZM338.13 -14.76L350.63 -14.76L351.31 -8.88L338.81 -8.88ZM339.06 -5.24L351.56 -5.24L351.69 0.74L339.19 0.74ZM339.1 4.4L351.6 4.4L351.17 10.34L338.67 10.34ZM338.24 13.94L350.74 13.94L349.78 19.72L337.28 19.72ZM336.52 23.17L349.02 23.17L347.53 28.65L335.03 28.65ZM333.96 31.89L346.46 31.89L344.48 36.94L331.98 36.94ZM330.63 39.89L343.13 39.89L340.7 44.41L328.2 44.41ZM326.59 47L339.09 47L336.27 50.89L323.77 50.89ZM321.94 53.06L334.44 53.06L331.3 56.22L318.8 56.22ZM316.78 57.93L329.28 57.93L325.88 60.31L313.38 60.31ZM311.23 61.51L323.73 61.51L320.15 63.04L307.65 63.04ZM305.42 63.72L317.92 63.72L314.23 64.37L301.73 64.37ZM299.46 64.5L311.96 64.5L308.25 64.26L295.75 64.26Z" fill="#fff" stroke="#000" stroke-width="1.46"/>
<path d="M300.17 -63.98L312.67 -63.98M306.07 -63.03L318.57 -63.03M311.82 -60.68L324.32 -60.68M317.28 -56.97L329.78 -56.97M322.35 -51.98L334.85 -51.98M326.89 -45.84L339.39 -45.84M330.82 -38.67L343.32 -38.67M334.04 -30.64L346.54 -30.64M336.48 -21.92L348.98 -21.92M338.09 -12.71L350.59 -12.71M338.83 -3.22L351.33 -3.22M338.68 6.34L351.18 6.34M337.66 15.76L350.16 15.76M335.77 24.83L348.27 24.83M333.07 33.34L345.57 33.34M329.61 41.11L342.11 41.11M325.47 47.96L337.97 47.96M320.74 53.74L333.24 53.74M315.54 58.32L328.04 58.32M309.97 61.6L322.47 61.6M304.15 63.5L316.65 63.5M298.23 63.98L310.73 63.98" fill="none" stroke="#000" stroke-width="2.81"/>
<ellipse cx="298.7" cy="0" rx="38.13" ry="61.5" fill="#fff" stroke="#000" stroke-width="1.22"/>
<path d="M298.7 61.4L298.7 64.3L295.86 64.14L295.98 61.24L293.28 60.78L293.03 63.65L290.23 62.83L290.61 60L287.98 58.91L287.47 61.7L284.77 60.25L285.4 57.53L282.89 55.85L282.14 58.49L279.59 56.43L280.46 53.89L278.12 51.65L277.15 54.09L274.81 51.47L275.89 49.15L273.77 46.4L272.59 48.59L270.51 45.47L271.78 43.42L269.93 40.21L268.57 42.11L266.79 38.53L268.22 36.8L266.68 33.2L265.16 34.76L263.71 30.82L265.29 29.43L264.07 25.51L262.44 26.71L261.35 22.47L263.03 21.46L262.17 17.3L260.45 18.12L259.75 13.67L261.5 13.05L261.02 8.74L259.24 9.15L258.94 4.59L260.73 4.38L260.63 0L258.83 0L258.94 -4.59L260.73 -4.38L261.02 -8.74L259.24 -9.15L259.75 -13.67L261.5 -13.05L262.17 -17.3L260.45 -18.12L261.35 -22.47L263.03 -21.46L264.07 -25.51L262.44 -26.71L263.71 -30.82L265.29 -29.43L266.68 -33.2L265.16 -34.76L266.79 -38.53L268.22 -36.8L269.93 -40.21L268.57 -42.11L270.51 -45.47L271.78 -43.42L273.77 -46.4L272.59 -48.59L274.81 -51.47L275.89 -49.15L278.12 -51.65L277.15 -54.09L279.59 -56.43L280.46 -53.89L282.89 -55.85L282.14 -58.49L284.77 -60.25L285.4 -57.53L287.98 -58.91L287.47 -61.7L290.23 -62.83L290.61 -60L293.28 -60.78L293.03 -63.65L295.86 -64.14L295.98 -61.24L298.7 -61.4L298.7 -64.3L301.54 -64.14L301.42 -61.24" fill="none" stroke="#000" stroke-width="1.59"/>
<path d="M295.38 -61.27A38.13 61.5 0 1 1 295.38 61.27" fill="none" stroke="#000" stroke-width="1.71"/>
<ellipse cx="298.7" cy="0" rx="32.24" ry="52" fill="none" stroke="#000" stroke-width="1.22"/>
<ellipse cx="299.2" cy="0" rx="30.69" ry="49.5" fill="none" stroke="#000" stroke-width="2.2"/>
<ellipse cx="301.2" cy="0" rx="22.94" ry="37" fill="none" stroke="#000" stroke-width="1.22"/>
<ellipse cx="301.7" cy="0" rx="21.08" ry="34" fill="none" stroke="#000" stroke-width="2.4"/>
<ellipse cx="302.7" cy="0" rx="18.6" ry="30" fill="none" stroke="#000" stroke-width="1.22"/>
<ellipse cx="303.7" cy="0" rx="16.43" ry="26.5" fill="none" stroke="#000" stroke-width="2.2"/>
<circle cx="326.5" cy="15.73" r="0.8" fill="#000"/><circle cx="313.96" cy="39.84" r="0.8" fill="#000"/><circle cx="294.75" cy="45.3" r="0.8" fill="#000"/><circle cx="324.4" cy="-23" r="0.8" fill="#000"/>
<ellipse cx="303.7" cy="0" rx="14.26" ry="23" fill="#fff" stroke="#000" stroke-width="1.22"/>
<path d="M269.5 -19.5L302.7 -19.5A12.09 19.5 0 0 1 302.7 19.5L269.5 19.5A12.09 19.5 0 0 1 269.5 -19.5Z" fill="#fff" stroke="#000" stroke-width="1.22"/>
<path d="M278.55 -19.43L303.75 -19.43M280.12 -19.04L305.32 -19.04M281.64 -18.32L306.84 -18.32M283.08 -17.3L308.28 -17.3M284.43 -15.97L309.63 -15.97M285.67 -14.38L310.87 -14.38M286.76 -12.53L311.96 -12.53M287.7 -10.48L312.9 -10.48M288.46 -8.24L313.66 -8.24M289.03 -5.86L314.23 -5.86M289.41 -3.39L314.61 -3.39M289.58 -0.85L314.78 -0.85M289.54 1.7L314.74 1.7M289.3 4.22L314.5 4.22M288.86 6.67L314.06 6.67M288.22 9L313.42 9M287.4 11.18L312.6 11.18M286.41 13.17L311.61 13.17M285.27 14.94L310.47 14.94M284 16.45L309.2 16.45M282.61 17.67L307.81 17.67M281.14 18.6L306.34 18.6M279.6 19.2L304.8 19.2M278.03 19.48L303.23 19.48" fill="none" stroke="#000" stroke-width="1.59"/>
<path d="M277.08 -19.49A12.09 19.5 0 1 1 277.08 19.49" fill="none" stroke="#000" stroke-width="1.22"/>
<ellipse cx="269.5" cy="0" rx="12.09" ry="19.5" fill="#fff" stroke="#000" stroke-width="3"/>
<ellipse cx="270" cy="0" rx="9.92" ry="16" fill="none" stroke="#000" stroke-width="1.46"/>
<ellipse cx="271" cy="0" rx="8.06" ry="13" fill="none" stroke="#000" stroke-width="3.6"/>
<path d="M273.26 11.33A7.13 11.5 0 0 1 275.74 -11.33" fill="none" stroke="#000" stroke-width="1.95"/>
<path d="M247.41 0L272.5 0" fill="none" stroke="#000" stroke-width="1.46"/>
<path d="M359.7 0A22.64 33.3 0 1 0 404.99 0A22.64 33.3 0 1 0 359.7 0ZM361.95 0A20.4 30 0 1 1 402.75 0A20.4 30 0 1 1 361.95 0Z" fill="#fff" stroke="#000" stroke-width="1.22" fill-rule="evenodd"/>
<path d="M358.4 0A22.64 33.3 0 1 0 403.69 0A22.64 33.3 0 1 0 358.4 0ZM360.65 0A20.4 30 0 1 1 401.45 0A20.4 30 0 1 1 360.65 0Z" fill="#fff" stroke="#000" stroke-width="0.1" fill-rule="evenodd"/>
<ellipse cx="381.05" cy="0" rx="22.64" ry="33.3" fill="none" stroke="#000" stroke-width="1.34"/>
<ellipse cx="381.05" cy="0" rx="20.4" ry="30" fill="none" stroke="#000" stroke-width="2.6"/>
<path d="M390.12 -29.96L391.25 -32.17L393.48 -30.43L392.87 -27.82Z" fill="#000" stroke="#000" stroke-width="1.46"/>
<path d="M395.97 24.38L396.88 26.79L394.89 29.08L393.52 27.19Z" fill="#000" stroke="#000" stroke-width="1.46"/>
<path d="M356.4 0L387.17 0" fill="none" stroke="#000" stroke-width="1.46"/>
<path d="M452.43 -52.39L451.22 -56.03L453.71 -57.88L454.76 -54.12L457.15 -55.59L456.28 -59.46L458.9 -60.76L459.61 -56.81L462.12 -57.77L461.58 -61.78L464.3 -62.51L464.66 -58.45L467.22 -58.86L467.04 -62.95L469.8 -63.1L469.8 -59L472.38 -58.86L472.56 -62.95L475.3 -62.51L474.94 -58.45L477.48 -57.77L478.02 -61.78L480.7 -60.76L479.99 -56.81L482.45 -55.59L483.32 -59.46L485.89 -57.88L484.84 -54.12L487.17 -52.39L488.38 -56.03L490.78 -53.91L489.42 -50.41L491.58 -48.2L493.09 -51.55L495.29 -48.95L493.63 -45.77L495.57 -43.12L497.36 -46.12L499.31 -43.07L497.4 -40.27L499.09 -37.23L501.13 -39.82L502.79 -36.39L500.65 -34.02L502.06 -30.66L504.3 -32.79L505.66 -29.03L503.33 -27.14L504.43 -23.51L506.84 -25.14L507.85 -21.13L505.38 -19.76L506.16 -15.92L508.69 -17.02L509.34 -12.84L506.77 -12L507.21 -8.03L509.81 -8.59L510.09 -4.31L507.47 -4.03L507.56 0L510.18 0L510.09 4.31L507.47 4.03L507.21 8.03L509.81 8.59L509.34 12.84L506.77 12L506.16 15.92L508.69 17.02L507.85 21.13L505.38 19.76L504.43 23.51L506.84 25.14L505.66 29.03L503.33 27.14L502.06 30.66L504.3 32.79L502.79 36.39L500.65 34.02L499.09 37.23L501.13 39.82L499.31 43.07L497.4 40.27L495.57 43.12L497.36 46.12L495.29 48.95L493.63 45.77L491.58 48.2L493.09 51.55L490.78 53.91L489.42 50.41L487.17 52.39L488.38 56.03L485.89 57.88L484.84 54.12L482.45 55.59L483.32 59.46L480.7 60.76L479.99 56.81L477.48 57.77L478.02 61.78L475.3 62.51L474.94 58.45L472.38 58.86L472.56 62.95L469.8 63.1L469.8 59L467.22 58.86L467.04 62.95L464.3 62.51L464.66 58.45" fill="#fff" stroke="#000" stroke-width="1.46"/>
<path d="M439.43 -52.39L438.22 -56.03L440.71 -57.88L441.76 -54.12L444.15 -55.59L443.28 -59.46L445.9 -60.76L446.61 -56.81L449.12 -57.77L448.58 -61.78L451.3 -62.51L451.66 -58.45L454.22 -58.86L454.04 -62.95L456.8 -63.1L456.8 -59L459.38 -58.86L459.56 -62.95L462.3 -62.51L461.94 -58.45L464.48 -57.77L465.02 -61.78L467.7 -60.76L466.99 -56.81L469.45 -55.59L470.32 -59.46L472.89 -57.88L471.84 -54.12L474.17 -52.39L475.38 -56.03L477.78 -53.91L476.42 -50.41L478.58 -48.2L480.09 -51.55L482.29 -48.95L480.63 -45.77L482.57 -43.12L484.36 -46.12L486.31 -43.07L484.4 -40.27L486.09 -37.23L488.13 -39.82L489.79 -36.39L487.65 -34.02L489.06 -30.66L491.3 -32.79L492.66 -29.03L490.33 -27.14L491.43 -23.51L493.84 -25.14L494.85 -21.13L492.38 -19.76L493.16 -15.92L495.69 -17.02L496.34 -12.84L493.77 -12L494.21 -8.03L496.81 -8.59L497.09 -4.31L494.47 -4.03L494.56 0L497.18 0L497.09 4.31L494.47 4.03L494.21 8.03L496.81 8.59L496.34 12.84L493.77 12L493.16 15.92L495.69 17.02L494.85 21.13L492.38 19.76L491.43 23.51L493.84 25.14L492.66 29.03L490.33 27.14L489.06 30.66L491.3 32.79L489.79 36.39L487.65 34.02L486.09 37.23L488.13 39.82L486.31 43.07L484.4 40.27L482.57 43.12L484.36 46.12L482.29 48.95L480.63 45.77L478.58 48.2L480.09 51.55L477.78 53.91L476.42 50.41L474.17 52.39L475.38 56.03L472.89 57.88L471.84 54.12L469.45 55.59L470.32 59.46L467.7 60.76L466.99 56.81L464.48 57.77L465.02 61.78L462.3 62.51L461.94 58.45L459.38 58.86L459.56 62.95L456.8 63.1L456.8 59L454.22 58.86L454.04 62.95L451.3 62.51L451.66 58.45" fill="#fff" stroke="#000" stroke-width="1.46"/>
<path d="M456.8 -59.5L469.8 -59.5A38.08 59.5 0 0 1 469.8 59.5L456.8 59.5A38.08 59.5 0 0 1 456.8 -59.5Z" fill="#fff" stroke="#000" stroke-width="1.22"/>
<path d="M451.15 -61.87L464.15 -61.87L467.09 -62.36L454.09 -62.36ZM456.6 -62.5L469.6 -62.5L472.55 -62.35L459.55 -62.35ZM462.05 -61.96L475.05 -61.96L477.96 -61.19L464.96 -61.19ZM467.4 -60.27L480.4 -60.27L483.21 -58.88L470.21 -58.88ZM472.55 -57.45L485.55 -57.45L488.22 -55.48L475.22 -55.48ZM477.41 -53.56L490.41 -53.56L492.88 -51.04L479.88 -51.04ZM481.89 -48.68L494.89 -48.68L497.12 -45.66L484.12 -45.66ZM485.9 -42.89L498.9 -42.89L500.84 -39.42L487.84 -39.42ZM489.36 -36.3L502.36 -36.3L503.99 -32.45L490.99 -32.45ZM492.22 -29.03L505.22 -29.03L506.5 -24.87L493.5 -24.87ZM494.42 -21.22L507.42 -21.22L508.32 -16.83L495.32 -16.83ZM495.92 -13.02L508.92 -13.02L509.43 -8.48L496.43 -8.48ZM496.69 -4.58L509.69 -4.58L509.8 0.03L496.8 0.03ZM496.72 3.95L509.72 3.95L509.42 8.54L496.42 8.54ZM496 12.41L509 12.41L508.31 16.89L495.31 16.89ZM494.56 20.63L507.56 20.63L506.48 24.93L493.48 24.93ZM492.41 28.48L505.41 28.48L503.97 32.5L490.97 32.5ZM489.59 35.79L502.59 35.79L500.82 39.47L487.82 39.47ZM486.17 42.43L499.17 42.43L497.09 45.7L484.09 45.7ZM482.2 48.28L495.2 48.28L492.85 51.08L479.85 51.08ZM477.75 53.24L490.75 53.24L488.19 55.51L475.19 55.51ZM472.92 57.2L485.92 57.2L483.18 58.9L470.18 58.9ZM467.78 60.1L480.78 60.1L477.92 61.2L464.92 61.2ZM462.45 61.87L475.45 61.87L472.51 62.36L459.51 62.36ZM457 62.5L470 62.5L467.05 62.35L454.05 62.35Z" fill="#fff" stroke="#000" stroke-width="1.46"/>
<path d="M456.4 -59.96L468.4 -59.96M461.64 -59.7L473.64 -59.7M466.81 -58.33L478.81 -58.33M471.81 -55.87L483.81 -55.87M476.54 -52.37L488.54 -52.37M480.93 -47.89L492.93 -47.89M484.89 -42.52L496.89 -42.52M488.34 -36.36L500.34 -36.36M491.23 -29.53L503.23 -29.53M493.49 -22.14L505.49 -22.14M495.09 -14.34L507.09 -14.34M495.99 -6.27L507.99 -6.27M496.18 1.91L508.18 1.91M495.66 10.06L507.66 10.06M494.43 18.02L506.43 18.02M492.52 25.65L504.52 25.65M489.96 32.79L501.96 32.79M486.8 39.33L498.8 39.33M483.1 45.13L495.1 45.13M478.93 50.1L490.93 50.1M474.37 54.13L486.37 54.13M469.5 57.15L481.5 57.15M464.41 59.1L476.41 59.1M459.2 59.96L471.2 59.96M453.96 59.7L465.96 59.7" fill="none" stroke="#000" stroke-width="2.68"/>
<path d="M450.8 -59.3L457.8 -59.3A37.95 59.3 0 0 1 457.8 59.3L450.8 59.3A37.95 59.3 0 0 1 450.8 -59.3Z" fill="#fff" stroke="#000" stroke-width="1.22"/>
<ellipse cx="450.8" cy="0" rx="37.95" ry="59.3" fill="#fff" stroke="#000" stroke-width="2.6"/>
<ellipse cx="450.8" cy="0" rx="35.71" ry="55.8" fill="none" stroke="#000" stroke-width="1.22"/>
<ellipse cx="451.3" cy="0" rx="32.96" ry="51.5" fill="none" stroke="#000" stroke-width="1.22"/>
<ellipse cx="451.8" cy="0" rx="30.4" ry="47.5" fill="none" stroke="#000" stroke-width="2.4"/>
<ellipse cx="452.8" cy="0" rx="23.36" ry="36.5" fill="none" stroke="#000" stroke-width="1.22"/>
<ellipse cx="453.3" cy="0" rx="21.12" ry="33" fill="none" stroke="#000" stroke-width="2.2"/>
<ellipse cx="442.8" cy="0" rx="17.28" ry="27" fill="#fff" stroke="#000" stroke-width="2.4"/>
<ellipse cx="443.3" cy="0" rx="15.04" ry="23.5" fill="none" stroke="#000" stroke-width="1.22"/>
<ellipse cx="444.3" cy="0" rx="13.12" ry="20.5" fill="none" stroke="#000" stroke-width="2.44"/>
<path d="M442.58 19.7L452.58 19.7M440.63 18.91L450.63 18.91M438.79 17.66L448.79 17.66M437.1 15.97L447.1 15.97M435.59 13.89L445.59 13.89M434.31 11.47L444.31 11.47M433.3 8.77L443.3 8.77M432.56 5.85L442.56 5.85M432.12 2.78L442.12 2.78M432 -0.35L442 -0.35M432.19 -3.47L442.19 -3.47M432.7 -6.51L442.7 -6.51M433.5 -9.39L443.5 -9.39M434.58 -12.04L444.58 -12.04M435.91 -14.39L445.91 -14.39M437.46 -16.38L447.46 -16.38M439.19 -17.98L449.19 -17.98M441.06 -19.13L451.06 -19.13M443.02 -19.81L453.02 -19.81" fill="none" stroke="#000" stroke-width="1.71"/>
<path d="M453.74 18.93A12.16 19 0 0 1 453.74 -18.93" fill="none" stroke="#000" stroke-width="1.22"/>
<path d="M390.85 0L454.8 0" fill="none" stroke="#000" stroke-width="1.46"/>
<path d="M592.8 -66L599.8 -66A42.24 66 0 0 1 599.8 66L592.8 66A42.24 66 0 0 1 592.8 -66Z" fill="#fff" stroke="#000" stroke-width="1.22"/>
<path d="M590.12 -65.75L596.12 -65.75M592.33 -65.96L598.33 -65.96M594.54 -65.99L600.54 -65.99M596.75 -65.84L602.75 -65.84M598.95 -65.51L604.95 -65.51M601.13 -65L607.13 -65M603.3 -64.31L609.3 -64.31M605.44 -63.44L611.44 -63.44M607.55 -62.4L613.55 -62.4M609.62 -61.19L615.62 -61.19M611.65 -59.82L617.65 -59.82M613.63 -58.27L619.63 -58.27M615.56 -56.57L621.56 -56.57M617.42 -54.72L623.42 -54.72M619.22 -52.71L625.22 -52.71M620.95 -50.56L626.95 -50.56M622.61 -48.27L628.61 -48.27M624.18 -45.85L630.18 -45.85M625.68 -43.3L631.68 -43.3M627.09 -40.63L633.09 -40.63M628.4 -37.86L634.4 -37.86M629.62 -34.97L635.62 -34.97M630.74 -32L636.74 -32M631.77 -28.93L637.77 -28.93M632.68 -25.79L638.68 -25.79M633.49 -22.57L639.49 -22.57M634.19 -19.3L640.19 -19.3M634.79 -15.97L640.79 -15.97M635.26 -12.59L641.26 -12.59M635.63 -9.19L641.63 -9.19M635.88 -5.75L641.88 -5.75M636.01 -2.3L642.01 -2.3M636.03 1.15L642.03 1.15M635.94 4.6L641.94 4.6M635.73 8.04L641.73 8.04M635.4 11.46L641.4 11.46M634.96 14.85L640.96 14.85M634.4 18.19L640.4 18.19M633.74 21.49L639.74 21.49M632.96 24.72L638.96 24.72M632.08 27.89L638.08 27.89M631.1 30.99L637.1 30.99M630.01 33.99L636.01 33.99M628.82 36.91L634.82 36.91M627.53 39.72L633.53 39.72M626.16 42.42L632.16 42.42M624.69 45.01L630.69 45.01M623.14 47.48L629.14 47.48M621.51 49.81L627.51 49.81M619.81 52.01L625.81 52.01M618.03 54.06L624.03 54.06M616.18 55.97L622.18 55.97M614.28 57.72L620.28 57.72M612.32 59.32L618.32 59.32M610.3 60.75L616.3 60.75M608.25 62.02L614.25 62.02M606.15 63.12L612.15 63.12M604.02 64.04L610.02 64.04M601.86 64.79L607.86 64.79M599.68 65.36L605.68 65.36M597.48 65.75L603.48 65.75M595.27 65.96L601.27 65.96M593.06 65.99L599.06 65.99M590.85 65.84L596.85 65.84" fill="none" stroke="#000" stroke-width="1.59"/>
<path d="M580.8 -63.4L593.8 -63.4A40.58 63.4 0 0 1 593.8 63.4L580.8 63.4A40.58 63.4 0 0 1 580.8 -63.4Z" fill="#fff" stroke="#000" stroke-width="1.34"/>
<path d="M583.26 -63.16A40.58 63.4 0 1 1 583.26 63.16" fill="none" stroke="#000" stroke-width="1.22"/>
<ellipse cx="580.8" cy="0" rx="40.58" ry="63.4" fill="#fff" stroke="#000" stroke-width="1.71"/>
<ellipse cx="581.3" cy="0" rx="38.02" ry="59.4" fill="none" stroke="#000" stroke-width="1.22"/>
<ellipse cx="581.8" cy="0" rx="34.82" ry="54.4" fill="none" stroke="#000" stroke-width="2.2"/>
<ellipse cx="582.3" cy="0" rx="32.26" ry="50.4" fill="none" stroke="#000" stroke-width="1.22"/>
<path d="M589.24 -62.01L601.24 -62.01M594.68 -59.58L606.68 -59.58" fill="none" stroke="#000" stroke-width="1.22"/>
<path d="M555.9 -46L582.8 -46A29.44 46 0 0 1 582.8 46L555.9 46A29.44 46 0 0 1 555.9 -46Z" fill="#fff" stroke="#000" stroke-width="1.34"/>
<ellipse cx="555.9" cy="0" rx="29.44" ry="46" fill="#fff" stroke="#000" stroke-width="2.4"/>
<ellipse cx="556.4" cy="0" rx="26.88" ry="42" fill="none" stroke="#000" stroke-width="1.22"/>
<path d="M566.02 -44.63L585.92 -44.63L604.3 -23L584.4 -23Z" fill="#fff" stroke="#000" stroke-width="1.59"/>
<path d="M576.92 -44.63L589.03 -43.13M566.02 -44.63L592.62 -40.62M569.77 -42.75L595.97 -37.37M573.32 -40.1L599 -33.46M576.62 -36.74L601.68 -28.95M579.6 -32.72L603.95 -23.92M582.2 -28.11L595.29 -23" fill="none" stroke="#000" stroke-width="1.71"/>
<path d="M586.56 15.73L606.46 15.73L589.83 42.65L569.93 42.65Z" fill="#fff" stroke="#000" stroke-width="1.59"/>
<path d="M601.49 15.73L605.69 18.71M594.03 15.73L604.3 23M586.56 15.73L602.62 27.04M585.36 20.17L600.68 30.78M583.87 24.38L598.5 34.18M582.1 28.32L596.1 37.21M580.08 31.95L593.52 39.84M577.82 35.24L590.77 42.02M575.36 38.14L584.85 42.65M572.72 40.62L577.39 42.65" fill="none" stroke="#000" stroke-width="1.83"/>
<path d="M585.34 -11.91L609.24 -11.91M586.05 6.4L609.95 6.4" fill="none" stroke="#000" stroke-width="1.22"/>
<path d="M543.9 -37.8L549.9 -37.8A24.19 37.8 0 0 1 549.9 37.8L543.9 37.8A24.19 37.8 0 0 1 543.9 -37.8Z" fill="#fff" stroke="#000" stroke-width="1.22"/>
<path d="M546.79 -37.66A24.19 37.8 0 1 1 546.79 37.66" fill="none" stroke="#000" stroke-width="2.68"/>
<ellipse cx="543.9" cy="0" rx="24.19" ry="37.8" fill="#fff" stroke="#000" stroke-width="3"/>
<ellipse cx="544.4" cy="0" rx="21.31" ry="33.3" fill="none" stroke="#000" stroke-width="1.22"/>
<ellipse cx="544.9" cy="0" rx="19.07" ry="29.8" fill="none" stroke="#000" stroke-width="3"/>
<ellipse cx="545.9" cy="0" rx="16.51" ry="25.8" fill="none" stroke="#000" stroke-width="1.22"/>
<path d="M531.99 -8.48L542.99 -8.48L552.47 -23.3L541.47 -23.3Z" fill="#fff" stroke="#000" stroke-width="1.59"/>
<path d="M531.99 -8.48L543.52 -10.48M532.93 -11.77L544.64 -13.63M534.17 -14.81L546.04 -16.49M535.68 -17.54L547.7 -19M537.42 -19.89L549.57 -21.11M539.37 -21.83L551.61 -22.77" fill="none" stroke="#000" stroke-width="1.46"/>
<path d="M544.14 24.42L555.14 24.42L544.15 12.4L533.15 12.4Z" fill="#fff" stroke="#000" stroke-width="1.59"/>
<path d="M544.14 24.42L553.79 23.95M541.91 23.54L551.61 22.77M539.78 22.16L549.57 21.11M537.8 20.31L547.7 19M536.01 18.04L546.04 16.49M534.45 15.38L544.64 13.63" fill="none" stroke="#000" stroke-width="1.46"/>
<path d="M554.57 23.71A15.23 23.8 0 0 1 554.57 -23.71" fill="none" stroke="#000" stroke-width="1.46"/>
<path d="M497.71 0L553.9 0" fill="none" stroke="#000" stroke-width="1.46"/>
<path d="M779 -66L788 -66A42.24 66 0 0 1 788 66L779 66A42.24 66 0 0 1 779 -66Z" fill="#fff" stroke="#000" stroke-width="1.22"/>
<path d="M780.82 -65.75L784.32 -65.75M783.76 -65.99L787.26 -65.99M786.71 -65.91L790.21 -65.91M789.65 -65.51L793.15 -65.51M792.56 -64.79L796.06 -64.79M795.43 -63.75L798.93 -63.75M798.25 -62.4L801.75 -62.4M801 -60.75L804.5 -60.75M803.68 -58.81L807.18 -58.81M806.26 -56.57L809.76 -56.57M808.73 -54.06L812.23 -54.06M811.08 -51.29L814.58 -51.29M813.31 -48.27L816.81 -48.27M815.39 -45.01L818.89 -45.01M817.33 -41.54L820.83 -41.54M819.1 -37.86L822.6 -37.86M820.71 -33.99L824.21 -33.99M822.14 -29.96L825.64 -29.96M823.38 -25.79L826.88 -25.79M824.44 -21.49L827.94 -21.49M825.3 -17.08L828.8 -17.08M825.96 -12.59L829.46 -12.59M826.43 -8.04L829.93 -8.04M826.68 -3.45L830.18 -3.45M826.73 1.15L830.23 1.15M826.58 5.75L830.08 5.75M826.22 10.32L829.72 10.32M825.66 14.85L829.16 14.85M824.89 19.3L828.39 19.3M823.93 23.65L827.43 23.65M822.78 27.89L826.28 27.89M821.44 32L824.94 32M819.93 35.95L823.43 35.95M818.23 39.72L821.73 39.72M816.38 43.3L819.88 43.3M814.37 46.67L817.87 46.67M812.21 49.81L815.71 49.81M809.92 52.71L813.42 52.71M807.51 55.35L811.01 55.35M804.98 57.72L808.48 57.72M802.35 59.82L805.85 59.82M799.64 61.62L803.14 61.62M796.85 63.12L800.35 63.12M794 64.31L797.5 64.31M791.11 65.19L794.61 65.19M788.18 65.75L791.68 65.75M785.24 65.99L788.74 65.99M782.29 65.91L785.79 65.91" fill="none" stroke="#000" stroke-width="1.83"/>
<path d="M780.82 -65.75A42.24 66 0 1 1 780.82 65.75" fill="none" stroke="#000" stroke-width="1.22"/>
<path d="M797.52 -59.32L799.48 -57.72L801.38 -55.97L803.23 -54.06L805.01 -52.01L806.71 -49.81L808.34 -47.48L809.89 -45.01L811.36 -42.42L812.73 -39.72L814.02 -36.91L815.21 -33.99L816.3 -30.99L817.28 -27.89L818.16 -24.72L818.94 -21.49L819.6 -18.19L820.16 -14.85L820.6 -11.46L820.93 -8.04L821.14 -4.6L821.23 -1.15L821.21 2.3L821.08 5.75L820.83 9.19L820.46 12.59L819.99 15.97L819.39 19.3L818.69 22.57L817.88 25.79L816.97 28.93L815.94 32L814.82 34.97L813.6 37.86L812.29 40.63L810.88 43.3L809.38 45.85L807.81 48.27L806.15 50.56L804.42 52.71L802.62 54.72L800.76 56.57L798.83 58.27L796.85 59.82L794.82 61.19L792.75 62.4L790.64 63.44L788.5 64.31L786.33 65L784.15 65.51L781.95 65.84L779.74 65.99L777.53 65.96L775.32 65.75L773.12 65.36L770.94 64.79L768.78 64.04L766.65 63.12L764.55 62.02L762.5 60.75L760.48 59.32L758.52 57.72L756.62 55.97L754.77 54.06L752.99 52.01L751.29 49.81L749.66 47.48L748.11 45.01L746.64 42.42L745.27 39.72L743.98 36.91L742.79 33.99L741.7 30.99L740.72 27.89L739.84 24.72L739.06 21.49L738.4 18.19L737.84 14.85L737.4 11.46L740.81 9.96L737.34 10.86L736.83 -3.93L740.35 -3.6L740.81 -9.96L737.34 -10.86L739.94 -25.11L743.19 -23.01L744.95 -28.79L741.85 -31.41L747.27 -43.56L749.91 -39.93L752.78 -44.51L750.39 -48.56L758.04 -57.3L759.79 -52.53L763.45 -55.4L762.03 -60.44L771.09 -64.83L771.74 -59.43L775.8 -60.29L775.51 -65.77L784.99 -65.33L784.49 -59.89L788.51 -58.65L789.37 -63.98Z" fill="#fff" stroke="#000" stroke-width="1.59"/>
<path d="M786.01 -65.19L790.61 -65.19L794.93 -63.75L790.33 -63.75ZM794.54 -61.62L799.14 -61.62L803.18 -58.81L798.58 -58.81ZM802.41 -55.35L807.01 -55.35L810.58 -51.29L805.98 -51.29ZM809.27 -46.67L813.87 -46.67L816.83 -41.54L812.23 -41.54ZM814.83 -35.95L819.43 -35.95L821.64 -29.96L817.04 -29.96ZM818.83 -23.65L823.43 -23.65L824.8 -17.08L820.2 -17.08ZM821.12 -10.32L825.72 -10.32L826.18 -3.45L821.58 -3.45ZM821.58 3.45L826.18 3.45L825.72 10.32L821.12 10.32ZM820.2 17.08L824.8 17.08L823.43 23.65L818.83 23.65ZM817.04 29.96L821.64 29.96L819.43 35.95L814.83 35.95ZM812.23 41.54L816.83 41.54L813.87 46.67L809.27 46.67ZM805.98 51.29L810.58 51.29L807.01 55.35L802.41 55.35ZM798.58 58.81L803.18 58.81L799.14 61.62L794.54 61.62ZM790.33 63.75L794.93 63.75L790.61 65.19L786.01 65.19Z" fill="#fff" stroke="#000" stroke-width="1.83"/>
<ellipse cx="779" cy="0" rx="38.4" ry="60" fill="none" stroke="#000" stroke-width="1.22"/>
<ellipse cx="779.5" cy="0" rx="35.84" ry="56" fill="#fff" stroke="#000" stroke-width="1.46"/>
<path d="M752 -52L781 -52A33.28 52 0 0 1 781 52L752 52A33.28 52 0 0 1 752 -52Z" fill="#fff" stroke="#000" stroke-width="1.46"/>
<path d="M765.92 -50.86L783.92 -50.86L805.82 -26L787.82 -26Z" fill="#fff" stroke="#000" stroke-width="1.59"/>
<path d="M779.63 -50.86L786.33 -49.91M772.78 -50.86L790.08 -47.82M765.92 -50.86L793.64 -45.03M769.76 -49.21L796.96 -41.61M773.44 -46.85L800 -37.59M776.92 -43.82L802.71 -33.03M780.14 -40.17L805.05 -27.99M783.05 -35.94L801.54 -26M785.63 -31.19L794.68 -26" fill="none" stroke="#000" stroke-width="1.71"/>
<path d="M790.65 16.07L808.65 16.07L790.54 47.5L772.54 47.5Z" fill="#fff" stroke="#000" stroke-width="1.59"/>
<path d="M803.61 16.07L807.5 20.82M799.29 16.07L806.27 24.73M794.97 16.07L804.85 28.47M790.65 16.07L803.22 32.01M789.68 20.15L801.42 35.33M788.49 24.09L799.44 38.4M787.1 27.86L797.31 41.2M785.51 31.44L795.03 43.71M783.73 34.79L792.62 45.91M781.78 37.91L789.82 47.5M779.67 40.75L785.5 47.5M777.42 43.31L781.18 47.5M775.03 45.57L776.86 47.5" fill="none" stroke="#000" stroke-width="1.83"/>
<path d="M785.27 -17.79L810.27 -17.79M786.96 7.24L811.96 7.24" fill="none" stroke="#000" stroke-width="1.22"/>
<path d="M755.1 -51.8A33.28 52 0 1 1 755.1 51.8" fill="none" stroke="#000" stroke-width="1.59"/>
<path d="M749 -48.2L754 -48.2A30.85 48.2 0 0 1 754 48.2L749 48.2A30.85 48.2 0 0 1 749 -48.2Z" fill="#fff" stroke="#000" stroke-width="1.22"/>
<ellipse cx="749" cy="0" rx="30.85" ry="48.2" fill="#fff" stroke="#000" stroke-width="2.6"/>
<ellipse cx="749.3" cy="0" rx="28.29" ry="44.2" fill="none" stroke="#000" stroke-width="1.22"/>
<ellipse cx="750" cy="0" rx="24.96" ry="39" fill="none" stroke="#000" stroke-width="3"/>
<ellipse cx="750.5" cy="0" rx="22.08" ry="34.5" fill="none" stroke="#000" stroke-width="1.22"/>
<ellipse cx="751" cy="0" rx="19.2" ry="30" fill="none" stroke="#000" stroke-width="1.22"/>
<ellipse cx="751.5" cy="0" rx="16.96" ry="26.5" fill="none" stroke="#000" stroke-width="2.6"/>
<ellipse cx="748" cy="0" rx="13.12" ry="20.5" fill="#fff" stroke="#000" stroke-width="1.71"/>
<ellipse cx="748.5" cy="0" rx="10.88" ry="17" fill="none" stroke="#000" stroke-width="1.22"/>
<circle cx="752.64" cy="-12.56" r="0.7" fill="#000"/><circle cx="756.04" cy="-7.25" r="0.7" fill="#000"/><circle cx="757.28" cy="0" r="0.7" fill="#000"/><circle cx="756.04" cy="7.25" r="0.7" fill="#000"/><circle cx="752.64" cy="12.56" r="0.7" fill="#000"/>
<path d="M702.9 -13L747 -13A8.32 13 0 0 1 747 13L702.9 13A8.32 13 0 0 1 702.9 -13Z" fill="#fff" stroke="#000" stroke-width="1.59"/>
<path d="M706.9 -10L741 -11" fill="none" stroke="#000" stroke-width="1.22"/>
<path d="M654.9 -11.5L704.9 -11.5A7.36 11.5 0 0 1 704.9 11.5L654.9 11.5A7.36 11.5 0 0 1 654.9 -11.5Z" fill="#fff" stroke="#000" stroke-width="1.59"/>
<path d="M655.4 -11.5L671.4 -11.5A7.36 11.5 0 0 1 671.4 11.5L655.4 11.5A7.36 11.5 0 0 0 655.4 -11.5Z" fill="#000" stroke="#000" stroke-width="0.5"/>
<path d="M703.9 -12.5A8 12.5 0 0 1 703.9 12.5" fill="none" stroke="#000" stroke-width="1.22"/>
<ellipse cx="654.9" cy="0" rx="7.36" ry="11.5" fill="#fff" stroke="#000" stroke-width="2.2"/>
<path d="M660.6 8.66A6.4 10 0 1 1 660.6 -8.66" fill="none" stroke="#000" stroke-width="1.95"/>
<path d="M640.9 0L657.9 0" fill="none" stroke="#000" stroke-width="1.46"/>
</g>
<g transform="translate(411.3 786) rotate(-22.54)">
<path d="M0 0L134.36 0" fill="none" stroke="#000" stroke-width="1.46"/>
<path d="M31.8 -15L53.8 -15A9.3 15 0 0 1 53.8 15L31.8 15A9.3 15 0 0 1 31.8 -15Z" fill="#fff" stroke="#000" stroke-width="1.46"/>
<path d="M30.99 -14.94L56.52 -14.34M32.77 -14.92L58.17 -13.24M34.52 -14.34L59.65 -11.66M36.17 -13.24L60.92 -9.64M37.65 -11.66L61.93 -7.27M38.92 -9.64L62.64 -4.64M39.93 -7.27L63.03 -1.83M40.64 -4.64L63.08 1.05M41.03 -1.83L62.78 3.88M41.08 1.05L62.16 6.58M40.78 3.88L61.23 9.03M40.16 6.58L60.02 11.15M39.23 9.03L58.59 12.86M38.02 11.15L56.98 14.1M36.59 12.86L55.25 14.82M34.98 14.1L53.48 14.99M33.25 14.82L42.48 14.99M31.48 14.99L31.48 14.99" fill="none" stroke="#000" stroke-width="1.52"/>
<path d="M41.72 0L41.62 2.28L40.08 1.92L39.83 3.8L41.32 4.51L40.82 6.65L39.41 5.61L38.84 7.3L40.15 8.65L39.3 10.48L38.13 8.84L37.28 10.2L38.3 12.09L37.16 13.46L36.33 11.36L35.28 12.28L35.92 14.55L34.59 15.35L34.16 12.95L32.99 13.36L33.21 15.84L31.8 16L31.8 13.5L30.61 13.36L30.39 15.84L29.01 15.35L29.44 12.95L28.32 12.28L27.68 14.55L26.44 13.46L27.27 11.36L26.32 10.2L25.3 12.09L24.3 10.48L25.47 8.84L24.76 7.3L23.45 8.65L22.78 6.65L24.19 5.61L23.77 3.8L22.28 4.51L21.98 2.28L23.52 1.92L23.43 0L21.88 0L21.98 -2.28L23.52 -1.92L23.77 -3.8L22.28 -4.51L22.78 -6.65L24.19 -5.61L24.76 -7.3L23.45 -8.65L24.3 -10.48L25.47 -8.84L26.32 -10.2L25.3 -12.09L26.44 -13.46L27.27 -11.36L28.32 -12.28L27.68 -14.55L29.01 -15.35L29.44 -12.95L30.61 -13.36L30.39 -15.84L31.8 -16L31.8 -13.5L32.99 -13.36L33.21 -15.84L34.59 -15.35L34.16 -12.95L35.28 -12.28L35.92 -14.55L37.16 -13.46L36.33 -11.36L37.28 -10.2L38.3 -12.09L39.3 -10.48L38.13 -8.84L38.84 -7.3L40.15 -8.65L40.82 -6.65L39.41 -5.61L39.83 -3.8L41.32 -4.51L41.62 -2.28L40.08 -1.92L40.17 0Z" fill="#fff" stroke="#000" stroke-width="1.46"/>
<ellipse cx="31.8" cy="0" rx="7.13" ry="11.5" fill="none" stroke="#000" stroke-width="1.22"/>
<ellipse cx="32.3" cy="0" rx="5.27" ry="8.5" fill="none" stroke="#000" stroke-width="2.68"/>
<path d="M-1 0L32.8 0" fill="none" stroke="#000" stroke-width="1.46"/>
<path d="M86.25 0A10.75 16.8 0 1 0 107.75 0A10.75 16.8 0 1 0 86.25 0ZM91.56 0A5.44 8.5 0 1 1 102.44 0A5.44 8.5 0 1 1 91.56 0Z" fill="#fff" stroke="#000" stroke-width="1.46" fill-rule="evenodd"/>
<path d="M84.25 0A10.75 16.8 0 1 0 105.75 0A10.75 16.8 0 1 0 84.25 0ZM89.56 0A5.44 8.5 0 1 1 100.44 0A5.44 8.5 0 1 1 89.56 0Z" fill="#fff" stroke="#000" stroke-width="1.83" fill-rule="evenodd"/>
<ellipse cx="93.5" cy="0" rx="6.72" ry="10.5" fill="none" stroke="#000" stroke-width="2.2"/>
<path d="M76.25 0L95 0" fill="none" stroke="#000" stroke-width="1.46"/>
<path d="M295 -14L319 -14A8.4 14 0 0 1 319 14L295 14A8.4 14 0 0 1 295 -14Z" fill="#fff" stroke="#000" stroke-width="1.46"/>
<path d="M296.29 -13.99L319.29 -13.99M297.46 -13.79L320.46 -13.79M298.6 -13.31L321.6 -13.31M299.68 -12.58L322.68 -12.58M300.7 -11.61L323.7 -11.61M301.62 -10.4L324.62 -10.4M302.43 -9L325.43 -9M303.12 -7.42L326.12 -7.42M303.67 -5.69L326.67 -5.69M304.07 -3.86L327.07 -3.86M304.32 -1.95L327.32 -1.95M304.4 0L327.4 0M304.32 1.95L327.32 1.95M304.07 3.86L327.07 3.86M303.67 5.69L326.67 5.69M303.12 7.42L326.12 7.42M302.43 9L325.43 9M301.62 10.4L324.62 10.4M300.7 11.61L323.7 11.61M299.68 12.58L322.68 12.58M298.6 13.31L321.6 13.31M297.46 13.79L320.46 13.79M296.29 13.99L319.29 13.99" fill="none" stroke="#000" stroke-width="1.46"/>
<path d="M194.5 -12.3L296 -12.3A7.38 12.3 0 0 1 296 12.3L194.5 12.3A7.38 12.3 0 0 1 194.5 -12.3Z" fill="#fff" stroke="#000" stroke-width="1.59"/>
<path d="M184.5 -17L195.5 -12.3A7.38 12.3 0 0 1 195.5 12.3L184.5 17A10.2 17 0 0 1 184.5 -17Z" fill="#fff" stroke="#000" stroke-width="1.59"/>
<path d="M142.5 -17.7L184.5 -17.7A10.62 17.7 0 0 1 184.5 17.7L142.5 17.7A10.62 17.7 0 0 1 142.5 -17.7Z" fill="#fff" stroke="#000" stroke-width="1.59"/>
<path d="M166.5 -17.7A10.62 17.7 0 0 1 166.5 17.7" fill="none" stroke="#000" stroke-width="1.22"/>
<path d="M156.5 -17.7A10.62 17.7 0 0 1 156.5 17.7" fill="none" stroke="#000" stroke-width="1.22"/>
<circle cx="158.59" cy="-14.5" r="0.9" fill="#000"/>
<path d="M134.5 -24L144.5 -24A14.4 24 0 0 1 144.5 24L134.5 24A14.4 24 0 0 1 134.5 -24Z" fill="#fff" stroke="#000" stroke-width="1.46"/>
<path d="M142.24 -23.91A14.4 24 0 1 1 142.24 23.91" fill="none" stroke="#000" stroke-width="2.8"/>
<path d="M138.74 -23.91A14.4 24 0 1 1 138.74 23.91" fill="none" stroke="#000" stroke-width="2.6"/>
<path d="M135.74 -23.91A14.4 24 0 1 1 135.74 23.91" fill="none" stroke="#000" stroke-width="1.46"/>
<ellipse cx="134.5" cy="0" rx="14.4" ry="24" fill="#fff" stroke="#000" stroke-width="2.6"/>
<ellipse cx="135" cy="0" rx="12" ry="20" fill="none" stroke="#000" stroke-width="1.22"/>
<ellipse cx="135.5" cy="0" rx="9.6" ry="16" fill="none" stroke="#000" stroke-width="2.4"/>
<ellipse cx="136" cy="0" rx="7.2" ry="12" fill="none" stroke="#000" stroke-width="1.46"/>
<path d="M110.1 0L136.5 0" fill="none" stroke="#000" stroke-width="1.46"/>
</g>
<path d="M47.5 226.4L57.4 246.2" stroke="#000" stroke-width="1.4" fill="none"/>
<text transform="translate(33.9 222.9) scale(1.13 1)" class="lb">55</text>
<path d="M99 204.3L109.6 224.3" stroke="#000" stroke-width="1.4" fill="none"/>
<text transform="translate(85.4 200.3) scale(1.13 1)" class="lb">56</text>
<path d="M210.3 109.3L220.9 128.9" stroke="#000" stroke-width="1.4" fill="none"/>
<text transform="translate(198.4 106.8) scale(1.13 1)" class="lb">57</text>
<path d="M378.5 181.7L389.7 202.9" stroke="#000" stroke-width="1.4" fill="none"/>
<text transform="translate(388.6 218.4) scale(1.13 1)" class="lb">58</text>
<path d="M414.9 165.8L426.4 187.8" stroke="#000" stroke-width="1.4" fill="none"/>
<text transform="translate(424.4 203.3) scale(1.13 1)" class="lb">59</text>
<path d="M123.6 394.7L128.1 402.2" stroke="#000" stroke-width="1.4" fill="none"/>
<text transform="translate(114.5 391.9) scale(1.13 1)" class="lb">60</text>
<path d="M278.2 329.8L303.6 381.9" stroke="#000" stroke-width="1.4" fill="none"/>
<text transform="translate(263.2 326.4) scale(1.13 1)" class="lb">61</text>
<path d="M358.1 295.9L374.1 327.3" stroke="#000" stroke-width="1.4" fill="none"/>
<text transform="translate(343.1 292.2) scale(1.13 1)" class="lb">62</text>
<path d="M445.4 261L464.6 298.7" stroke="#000" stroke-width="1.4" fill="none"/>
<text transform="translate(433.2 257.3) scale(1.13 1)" class="lb">64</text>
<path d="M544.1 220.1L558.2 246" stroke="#000" stroke-width="1.4" fill="none"/>
<text transform="translate(531.3 216.4) scale(1.13 1)" class="lb">65</text>
<path d="M616.6 189.6L642.8 241.8" stroke="#000" stroke-width="1.4" fill="none"/>
<text transform="translate(604.4 186.8) scale(1.13 1)" class="lb">66</text>
<path d="M119.6 633L126 645.3" stroke="#000" stroke-width="1.4" fill="none"/>
<text transform="translate(106.5 629.4) scale(1.13 1)" class="lb">67</text>
<path d="M55 790.7L65.1 810.1" stroke="#000" stroke-width="1.4" fill="none"/>
<text transform="translate(59.3 826) scale(1.13 1)" class="lb">68</text>
<path d="M261.7 575L272.7 600" stroke="#000" stroke-width="1.4" fill="none"/>
<text transform="translate(248 571.3) scale(1.13 1)" class="lb">69</text>
<path d="M324.6 547.5L350 601" stroke="#000" stroke-width="1.4" fill="none"/>
<text transform="translate(311.5 544.4) scale(1.13 1)" class="lb">70</text>
<path d="M403.3 514L416.5 542.2" stroke="#000" stroke-width="1.4" fill="none"/>
<text transform="translate(390.3 511.2) scale(1.13 1)" class="lb">71</text>
<path d="M514.4 468.1L528.5 497.7" stroke="#000" stroke-width="1.4" fill="none"/>
<text transform="translate(501.6 463.8) scale(1.13 1)" class="lb">72</text>
<path d="M691.6 392.7L704.3 417.1" stroke="#000" stroke-width="1.4" fill="none"/>
<text transform="translate(679.4 388.9) scale(1.13 1)" class="lb">73</text>
<path d="M435.4 738.1L444.1 754.6" stroke="#000" stroke-width="1.4" fill="none"/>
<text transform="translate(423.2 735.1) scale(1.13 1)" class="lb">74</text>
<path d="M483.3 719.3L491.1 734.6" stroke="#000" stroke-width="1.4" fill="none"/>
<text transform="translate(471.4 715.8) scale(1.13 1)" class="lb">75</text>
<path d="M579.7 678.2L588.6 695.8" stroke="#000" stroke-width="1.4" fill="none"/>
<text transform="translate(566.6 674.7) scale(1.13 1)" class="lb">76</text>
<text x="669.5" y="40.3" class="dt">1Y04</text>
<rect x="709.8" y="34.2" width="5.8" height="1.5" fill="#000"/>
<text x="717.4" y="40.3" class="dt">161</text>
<text x="756.3" y="40.3" class="dt">12/11/2014</text>
<rect x="5.2" y="927.6" width="24.2" height="18.6" fill="#fff" stroke="#000" stroke-width="1.5"/>
<text x="11.6" y="941.3" class="ts">ts</text>
<g><rect x="824" y="926" width="26" height="30" fill="#000"/><rect x="825.1" y="927.1" width="23.8" height="27.8" fill="#c4c4c4"/><path d="M825.1 954.9L848.9 954.9L848.9 927.1L847 929L847 953L827 953Z" fill="#8c8c8c"/><rect x="826.8" y="928.8" width="20.4" height="24.4" fill="#000"/><text transform="translate(828.6 940.6) scale(0.62 1)" class="gm">GM</text><rect x="829" y="943" width="15.6" height="2.2" fill="#fff"/><rect x="829" y="946.8" width="15.6" height="5" fill="#fff"/><text transform="translate(830.2 951.3) scale(0.8 1)" class="gc">GCA</text></g>
</svg>
</body></html>
